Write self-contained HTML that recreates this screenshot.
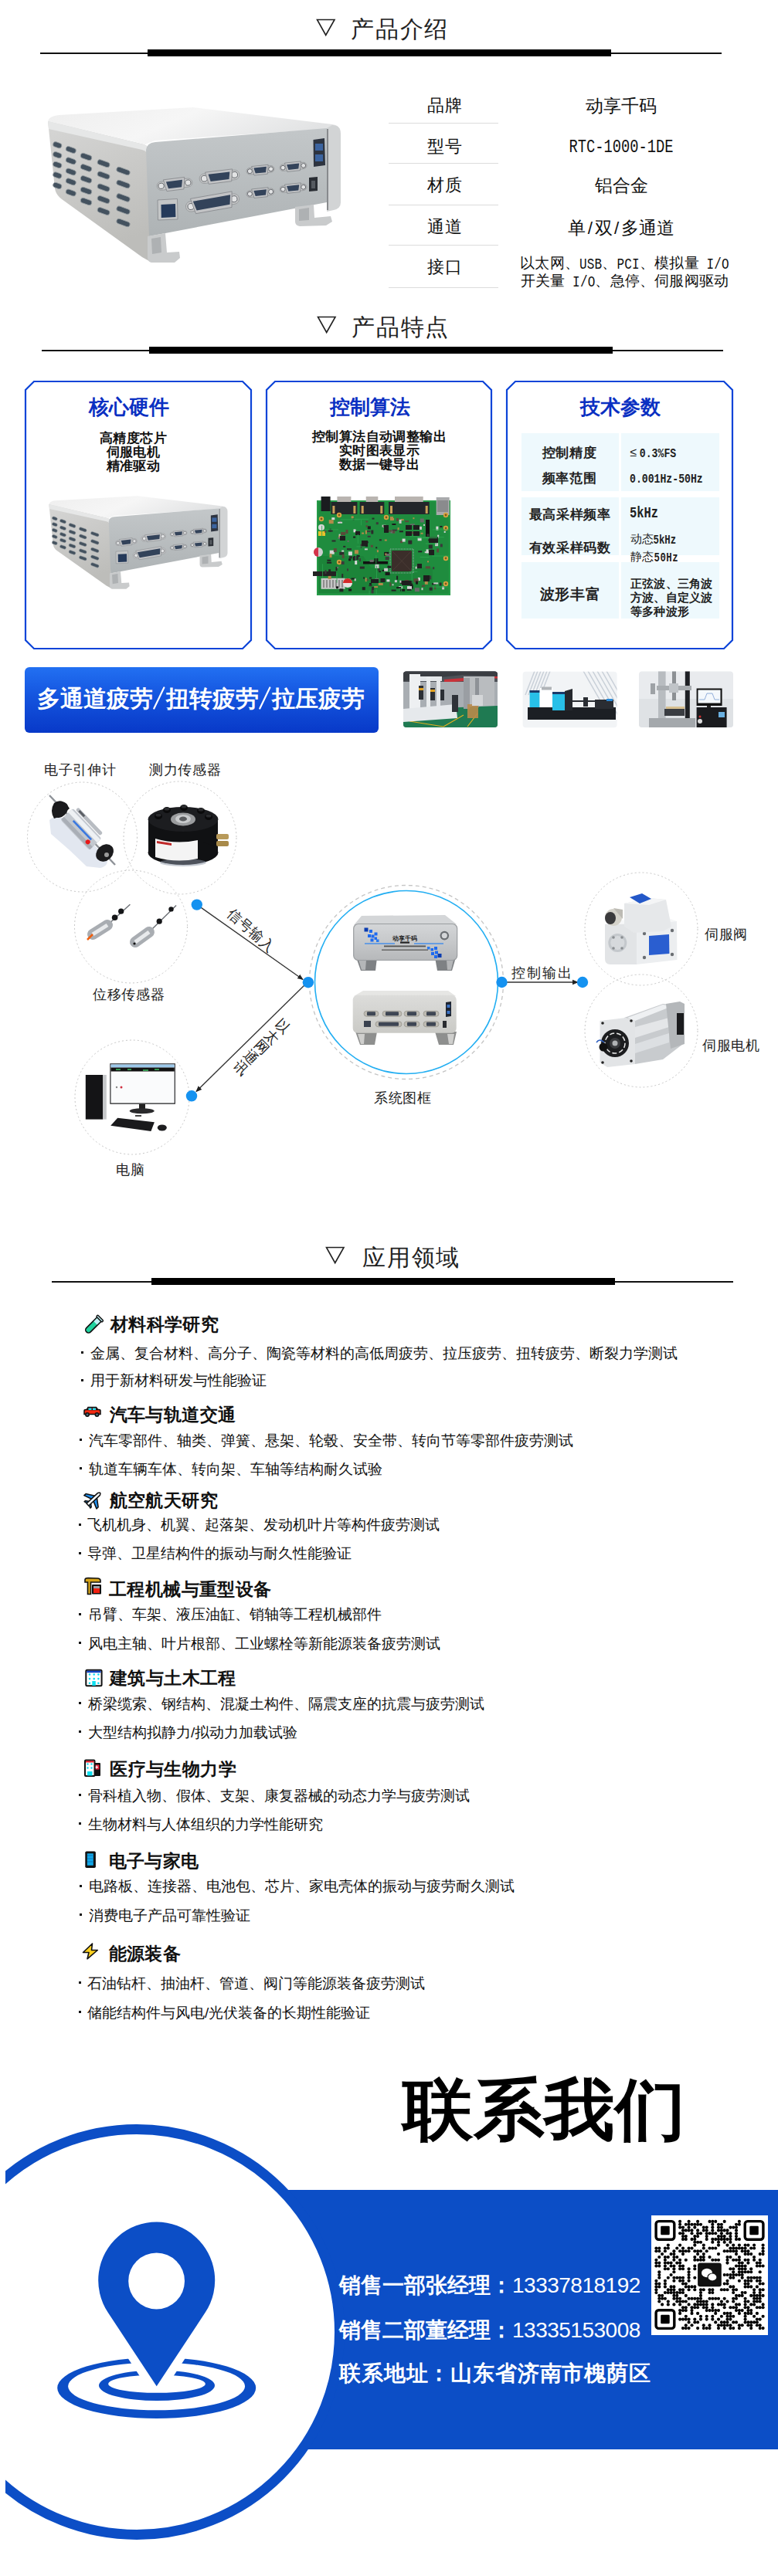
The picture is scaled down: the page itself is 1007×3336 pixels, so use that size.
<!DOCTYPE html>
<html><head><meta charset="utf-8">
<style>
*{margin:0;padding:0;box-sizing:border-box}
html,body{width:1007px;height:3336px;background:#fff;overflow:hidden}
body{position:relative;font-family:"Liberation Sans",sans-serif;color:#111}
.a{position:absolute;white-space:nowrap;line-height:1;z-index:2}
.ln{position:absolute;background:#111}
.tri{position:absolute}
.h1t{font-size:30px;color:#222;letter-spacing:1.8px;font-weight:500}
.lab{font-size:22px;color:#111;font-weight:500;letter-spacing:0.5px}
.val{font-size:22.5px;color:#111;text-align:center;width:300px;font-weight:500}
.hs{display:inline-block;width:11.25px;text-align:center}
.mo{font-family:"Liberation Mono",monospace;font-size:0.833em;display:inline-block;transform:scaleY(1.3);font-weight:normal}
.sep{position:absolute;height:1px;background:#dcdcdc}
.card{position:absolute;top:494px;width:294px;height:348px}
.ct{font-size:26px;font-weight:bold;color:#0a30c2}
.cs{font-size:17px;font-weight:bold;color:#111;text-align:center;line-height:18px;letter-spacing:0.4px}
.tp{font-size:17px;color:#222;font-weight:bold;letter-spacing:0.7px}
.tv .mo{font-weight:bold}
.em1{display:inline-block;width:1em;text-align:center}
.tv{font-size:15.8px;color:#222;font-weight:500}
.dl{font-size:18px;color:#222;font-weight:500;letter-spacing:0.7px}
.ah{font-size:23px;font-weight:bold;color:#111;letter-spacing:0.4px}
.al{font-size:19px;color:#111;font-weight:500}
.sl{display:inline-block;width:17px;text-align:center;font-weight:normal;color:transparent}
.ft{font-size:28px;font-weight:bold;color:#fff}
.dg{font-weight:normal;letter-spacing:-0.5px}
</style></head><body>

<!-- ===== Section 1 header ===== -->
<div class="ln" style="left:52px;top:68px;width:882px;height:1.5px"></div>
<div class="ln" style="left:191px;top:64px;width:600px;height:9px;background:#000"></div>
<svg class="tri" style="left:408px;top:23px" width="28" height="25"><path d="M2.5 2.5 L25 2.5 L13.7 22.5 Z" fill="none" stroke="#222" stroke-width="1.6"/></svg>
<div class="a h1t" style="left:454px;top:22.5px">产品介绍</div>

<!-- ===== Section 2 header ===== -->
<div class="ln" style="left:54px;top:453px;width:882px;height:1.5px"></div>
<div class="ln" style="left:193px;top:449px;width:600px;height:9px;background:#000"></div>
<svg class="tri" style="left:409px;top:408px" width="28" height="25"><path d="M2.5 2.5 L25 2.5 L13.7 22.5 Z" fill="none" stroke="#222" stroke-width="1.6"/></svg>
<div class="a h1t" style="left:455px;top:409px">产品特点</div>

<!-- ===== Section 3 header ===== -->
<div class="ln" style="left:67px;top:1659px;width:882px;height:1.5px"></div>
<div class="ln" style="left:196px;top:1655px;width:600px;height:9px;background:#000"></div>
<svg class="tri" style="left:420px;top:1613px" width="28" height="25"><path d="M2.5 2.5 L25 2.5 L13.7 22.5 Z" fill="none" stroke="#222" stroke-width="1.6"/></svg>
<div class="a h1t" style="left:469px;top:1614px">应用领域</div>


<!-- ===== Image layer ===== -->
<svg id="imgs" style="position:absolute;left:0;top:0;z-index:1" width="1007" height="3336">
<defs>
<linearGradient id="gTop" x1="0" y1="0" x2="1" y2="0.3"><stop offset="0" stop-color="#eeeeee"/><stop offset="0.5" stop-color="#f6f6f6"/><stop offset="1" stop-color="#e2e3e4"/></linearGradient>
<linearGradient id="gSide" x1="0" y1="0" x2="0.3" y2="1"><stop offset="0" stop-color="#d6d6d5"/><stop offset="1" stop-color="#bdbdba"/></linearGradient>
<linearGradient id="gFront" x1="0" y1="0" x2="0" y2="1"><stop offset="0" stop-color="#c3c7c9"/><stop offset="1" stop-color="#aeb3b5"/></linearGradient>
<linearGradient id="gSys" x1="0" y1="0" x2="0" y2="1"><stop offset="0" stop-color="#d4d6d8"/><stop offset="0.5" stop-color="#c6c8ca"/><stop offset="1" stop-color="#b6b8ba"/></linearGradient>
<linearGradient id="gSys2" x1="0" y1="0" x2="0" y2="1"><stop offset="0" stop-color="#dcdcda"/><stop offset="1" stop-color="#cacac6"/></linearGradient>
</defs>
<g id="box">
<path d="M62 157 Q64 150 76 149 L250 139 L430 161 Q440 163 437 166 L423 167 L200 182 L188 187 Z" fill="url(#gTop)"/>
<path d="M62 157 L186 187 Q193 189 193 198 L193 338 L184 333 L80 258 Q72 252 71 244 Z" fill="url(#gSide)"/>
<path d="M62 157 L186 187 Q193 189 193 198 L193 203 Q191 196 184 194 L63 167 Z" fill="#e6e7e7"/>
<g fill="#44525f" stroke="#9aa0a4" stroke-width="0.8"><rect x="68.5" y="184.5" width="11.5" height="6.6" rx="3.2" transform="rotate(20 74.3 187.8)"/>
<rect x="68.5" y="197.4" width="11.5" height="6.6" rx="3.2" transform="rotate(20 74.3 200.7)"/>
<rect x="68.5" y="210.2" width="11.5" height="6.6" rx="3.2" transform="rotate(20 74.3 213.5)"/>
<rect x="68.5" y="223.7" width="11.5" height="6.6" rx="3.2" transform="rotate(20 74.3 227.0)"/>
<rect x="68.5" y="237.2" width="11.5" height="6.6" rx="3.2" transform="rotate(20 74.3 240.5)"/>
<rect x="85.0" y="190.7" width="13.5" height="6.6" rx="3.2" transform="rotate(20 91.8 194.0)"/>
<rect x="85.0" y="205.1" width="13.5" height="6.6" rx="3.2" transform="rotate(20 91.8 208.4)"/>
<rect x="85.0" y="219.2" width="13.5" height="6.6" rx="3.2" transform="rotate(20 91.8 222.5)"/>
<rect x="85.0" y="232.1" width="13.5" height="6.6" rx="3.2" transform="rotate(20 91.8 235.4)"/>
<rect x="85.0" y="246.2" width="13.5" height="6.6" rx="3.2" transform="rotate(20 91.8 249.5)"/>
<rect x="104.0" y="199.7" width="15.0" height="6.6" rx="3.2" transform="rotate(20 111.5 203.0)"/>
<rect x="104.0" y="214.1" width="15.0" height="6.6" rx="3.2" transform="rotate(20 111.5 217.4)"/>
<rect x="104.0" y="229.0" width="15.0" height="6.6" rx="3.2" transform="rotate(20 111.5 232.3)"/>
<rect x="104.0" y="243.7" width="15.0" height="6.6" rx="3.2" transform="rotate(20 111.5 247.0)"/>
<rect x="104.0" y="257.7" width="15.0" height="6.6" rx="3.2" transform="rotate(20 111.5 261.0)"/>
<rect x="125.8" y="208.4" width="16.5" height="6.6" rx="3.2" transform="rotate(20 134.0 211.7)"/>
<rect x="125.8" y="223.7" width="16.5" height="6.6" rx="3.2" transform="rotate(20 134.0 227.0)"/>
<rect x="125.8" y="239.7" width="16.5" height="6.6" rx="3.2" transform="rotate(20 134.0 243.0)"/>
<rect x="125.8" y="255.2" width="16.5" height="6.6" rx="3.2" transform="rotate(20 134.0 258.5)"/>
<rect x="125.8" y="270.2" width="16.5" height="6.6" rx="3.2" transform="rotate(20 134.0 273.5)"/>
<rect x="150.5" y="218.2" width="18.0" height="6.6" rx="3.2" transform="rotate(20 159.5 221.5)"/>
<rect x="150.5" y="235.2" width="18.0" height="6.6" rx="3.2" transform="rotate(20 159.5 238.5)"/>
<rect x="150.5" y="252.7" width="18.0" height="6.6" rx="3.2" transform="rotate(20 159.5 256.0)"/>
<rect x="150.5" y="268.9" width="18.0" height="6.6" rx="3.2" transform="rotate(20 159.5 272.2)"/>
<rect x="150.5" y="285.2" width="18.0" height="6.6" rx="3.2" transform="rotate(20 159.5 288.5)"/></g>
<path d="M189 194 Q190 185 201 184 L423 166 L423 262 L193 306 Z" fill="url(#gFront)"/>
<path d="M423 166 L430 162 Q441 162 441 173 L441 262 Q441 270 432 272 L423 274 Z" fill="#d2d4d5"/>
<path d="M424 167 L424 272" stroke="#7f8285" stroke-width="1.8"/>
<path d="M191 306 L214 302 L216 327 L232 326 L233 334 L226 340 L196 340 Q191 339 191 333 Z" fill="#c9cbcc"/>
<path d="M196 309 L208 307 L209 327 L197 329 Z" fill="#aeb1b3"/>
<path d="M382 268 L406 265 L407 282 L428 280 L430 287 L422 292 L388 293 Q382 292 382 287 Z" fill="#c9cbcc"/>
<path d="M387 271 L400 269 L400 285 L387 286 Z" fill="#aeb1b3"/>
<g transform="translate(226.0 238.7) rotate(-7)"><rect x="-23.0" y="-5.5" width="46.0" height="11.0" rx="5.5" fill="#c6c7c8" stroke="#8c8f92" stroke-width="0.7"/><circle cx="-17.5" cy="0" r="3.6" fill="#e2e3e4" stroke="#5d6166" stroke-width="0.9"/><circle cx="17.5" cy="0" r="3.6" fill="#e2e3e4" stroke="#5d6166" stroke-width="0.9"/><path d="M-13.8 -7.6 H13.8 L11.1 7.6 H-11.1 Z" fill="#c2c3c5" stroke="#85888c" stroke-width="0.8"/><path d="M-10.6 -4.6 H10.6 L8.6 4.6 H-8.6 Z" fill="#33435a"/></g>
<g transform="translate(284.0 228.8) rotate(-7)"><rect x="-26.0" y="-6.2" width="52.0" height="12.5" rx="6.2" fill="#c6c7c8" stroke="#8c8f92" stroke-width="0.7"/><circle cx="-19.8" cy="0" r="3.9" fill="#e2e3e4" stroke="#5d6166" stroke-width="0.9"/><circle cx="19.8" cy="0" r="3.9" fill="#e2e3e4" stroke="#5d6166" stroke-width="0.9"/><path d="M-17.7 -7.8 H17.7 L14.9 7.8 H-14.9 Z" fill="#c2c3c5" stroke="#85888c" stroke-width="0.8"/><path d="M-14.0 -4.7 H14.0 L12.0 4.7 H-12.0 Z" fill="#33435a"/></g>
<g transform="translate(337.0 220.3) rotate(-6)"><rect x="-18.0" y="-4.3" width="36.0" height="8.6" rx="4.3" fill="#c6c7c8" stroke="#8c8f92" stroke-width="0.7"/><circle cx="-13.7" cy="0" r="3.0" fill="#e2e3e4" stroke="#5d6166" stroke-width="0.9"/><circle cx="13.7" cy="0" r="3.0" fill="#e2e3e4" stroke="#5d6166" stroke-width="0.9"/><path d="M-10.8 -5.9 H10.8 L8.7 5.9 H-8.7 Z" fill="#c2c3c5" stroke="#85888c" stroke-width="0.8"/><path d="M-8.3 -3.6 H8.3 L6.7 3.6 H-6.7 Z" fill="#33435a"/></g>
<g transform="translate(379.5 215.8) rotate(-6)"><rect x="-17.5" y="-4.2" width="35.0" height="8.4" rx="4.2" fill="#c6c7c8" stroke="#8c8f92" stroke-width="0.7"/><circle cx="-13.3" cy="0" r="2.9" fill="#e2e3e4" stroke="#5d6166" stroke-width="0.9"/><circle cx="13.3" cy="0" r="2.9" fill="#e2e3e4" stroke="#5d6166" stroke-width="0.9"/><path d="M-10.5 -5.8 H10.5 L8.4 5.8 H-8.4 Z" fill="#c2c3c5" stroke="#85888c" stroke-width="0.8"/><path d="M-8.1 -3.5 H8.1 L6.5 3.5 H-6.5 Z" fill="#33435a"/></g>
<g transform="translate(275.0 262.6) rotate(-10)"><rect x="-35.0" y="-6.7" width="70.0" height="13.3" rx="6.7" fill="#c6c7c8" stroke="#8c8f92" stroke-width="0.7"/><circle cx="-28.4" cy="0" r="4.0" fill="#e2e3e4" stroke="#5d6166" stroke-width="0.9"/><circle cx="28.4" cy="0" r="4.0" fill="#e2e3e4" stroke="#5d6166" stroke-width="0.9"/><path d="M-27.3 -10.1 H27.3 L23.6 10.1 H-23.6 Z" fill="#c2c3c5" stroke="#85888c" stroke-width="0.8"/><path d="M-24.5 -6.1 H24.5 L21.8 6.1 H-21.8 Z" fill="#33435a"/></g>
<g transform="translate(337.0 249.7) rotate(-6)"><rect x="-18.0" y="-4.3" width="36.0" height="8.6" rx="4.3" fill="#c6c7c8" stroke="#8c8f92" stroke-width="0.7"/><circle cx="-13.7" cy="0" r="3.0" fill="#e2e3e4" stroke="#5d6166" stroke-width="0.9"/><circle cx="13.7" cy="0" r="3.0" fill="#e2e3e4" stroke="#5d6166" stroke-width="0.9"/><path d="M-10.8 -5.9 H10.8 L8.7 5.9 H-8.7 Z" fill="#c2c3c5" stroke="#85888c" stroke-width="0.8"/><path d="M-8.3 -3.6 H8.3 L6.7 3.6 H-6.7 Z" fill="#33435a"/></g>
<g transform="translate(379.5 243.7) rotate(-6)"><rect x="-17.5" y="-4.2" width="35.0" height="8.4" rx="4.2" fill="#c6c7c8" stroke="#8c8f92" stroke-width="0.7"/><circle cx="-13.3" cy="0" r="2.9" fill="#e2e3e4" stroke="#5d6166" stroke-width="0.9"/><circle cx="13.3" cy="0" r="2.9" fill="#e2e3e4" stroke="#5d6166" stroke-width="0.9"/><path d="M-10.5 -5.8 H10.5 L8.4 5.8 H-8.4 Z" fill="#c2c3c5" stroke="#85888c" stroke-width="0.8"/><path d="M-8.1 -3.5 H8.1 L6.5 3.5 H-6.5 Z" fill="#33435a"/></g>
<path d="M204 259 L229.5 257.5 L230 284 L204.5 285 Z" fill="#c4c6c7" stroke="#85888b" stroke-width="0.8"/>
<path d="M208.5 265 L227 264 L227.4 281 L208.8 282 Z" fill="#253a5a"/>
<path d="M400 230 L411 229 L411 247 L400 248 Z" fill="#2a2e34"/>
<rect x="403" y="234" width="5" height="10" fill="#555a60"/>
<path d="M405.5 181 L420 179 L421 214 L406 216 Z" fill="#2e3440"/>
<rect x="408" y="186" width="10" height="9" fill="#3c64a0"/>
<rect x="408" y="200" width="10" height="9" fill="#3c64a0"/>
</g>
<use href="#box" transform="translate(25.5 558.8) scale(0.61 0.6)"/>
<g id="pcb">
<rect x="410" y="648" width="173" height="123" fill="#1f8c3e"/>
<rect x="411" y="649" width="171" height="121" fill="none" stroke="#2aa04c" stroke-width="1.5"/>
<path d="M412 720 L470 720 L480 735 L560 735 L560 768 L412 768 Z" fill="#1b8038" opacity="0.7"/>
<rect x="436.4" y="643" width="18.0" height="8" fill="#b9b4b0"/>
<rect x="428.4" y="650" width="34.0" height="16" fill="#23262a"/>
<rect x="430.4" y="655" width="3" height="10" fill="#c9a05a"/>
<rect x="457.4" y="655" width="3" height="10" fill="#c9a05a"/>
<rect x="473.7" y="643" width="15.6" height="8" fill="#b9b4b0"/>
<rect x="465.7" y="650" width="31.6" height="16" fill="#23262a"/>
<rect x="467.7" y="655" width="3" height="10" fill="#c9a05a"/>
<rect x="492.3" y="655" width="3" height="10" fill="#c9a05a"/>
<rect x="511.0" y="643" width="36.7" height="8" fill="#b9b4b0"/>
<rect x="503.0" y="650" width="52.7" height="16" fill="#23262a"/>
<rect x="505.0" y="655" width="3" height="10" fill="#c9a05a"/>
<rect x="550.7" y="655" width="3" height="10" fill="#c9a05a"/>
<rect x="415.6" y="643" width="12" height="19" fill="#1a1c1f"/>
<rect x="564.7" y="644" width="17" height="23" fill="#a9aaac"/>
<rect x="566" y="648" width="14" height="15" fill="#8a8b8d"/>
<rect x="507" y="713" width="26" height="27" fill="#3b2e2a"/>
<rect x="505" y="711" width="30" height="31" fill="none" stroke="#9aa" stroke-width="1.2" stroke-dasharray="1 1"/>
<path d="M507 713 L533 740 M533 713 L507 740" stroke="#4a3c36" stroke-width="1"/>
<rect x="415.6" y="748.8" width="31" height="14" fill="#c7c7c7"/>
<rect x="418.0" y="751" width="2" height="10" fill="#8d8d8d"/>
<rect x="422.0" y="751" width="2" height="10" fill="#8d8d8d"/>
<rect x="426.0" y="751" width="2" height="10" fill="#8d8d8d"/>
<rect x="430.0" y="751" width="2" height="10" fill="#8d8d8d"/>
<rect x="434.0" y="751" width="2" height="10" fill="#8d8d8d"/>
<rect x="438.0" y="751" width="2" height="10" fill="#8d8d8d"/>
<rect x="442.0" y="751" width="2" height="10" fill="#8d8d8d"/>
<rect x="405" y="740" width="30" height="6" fill="#222"/>
<circle cx="450" cy="755" r="6" fill="#e9e3e3"/><path d="M444 755 A6 6 0 0 1 456 755 Z" fill="#d42a2a"/>
<circle cx="412" cy="715" r="6" fill="#cfcfcf"/><path d="M406 715 A6 6 0 0 1 412 709 L412 721 A6 6 0 0 1 406 715Z" fill="#d6334a"/>
<rect x="412" y="688" width="9" height="6" fill="#e8c22b"/>
<circle cx="416" cy="683" r="4" fill="#d8d8d8"/>
<circle cx="416" cy="672" r="3.2" fill="#d9a441"/><circle cx="416" cy="672" r="1.4" fill="#7a5a20"/>
<circle cx="439" cy="728" r="3.2" fill="#d9a441"/><circle cx="439" cy="728" r="1.4" fill="#7a5a20"/>
<circle cx="577" cy="667" r="3.2" fill="#d9a441"/><circle cx="577" cy="667" r="1.4" fill="#7a5a20"/>
<circle cx="577" cy="684" r="3.2" fill="#d9a441"/><circle cx="577" cy="684" r="1.4" fill="#7a5a20"/>
<circle cx="577" cy="723" r="3.2" fill="#d9a441"/><circle cx="577" cy="723" r="1.4" fill="#7a5a20"/>
<circle cx="577" cy="756" r="3.2" fill="#d9a441"/><circle cx="577" cy="756" r="1.4" fill="#7a5a20"/>
<circle cx="439" cy="667" r="3.2" fill="#d9a441"/><circle cx="439" cy="667" r="1.4" fill="#7a5a20"/>
<circle cx="500" cy="670" r="3.2" fill="#d9a441"/><circle cx="500" cy="670" r="1.4" fill="#7a5a20"/>
<rect x="470" y="727" width="32" height="3.5" fill="#111"/>
<rect x="551" y="673" width="5" height="22" fill="#111"/>
<rect x="456.9" y="720.8" width="3" height="5" fill="#1a1a1a"/>
<rect x="517.0" y="674.4" width="2" height="4" fill="#5a4a3a"/>
<rect x="505.4" y="686.6" width="6" height="4" fill="#6a6a6a"/>
<rect x="549.7" y="714.2" width="6" height="2" fill="#c8c8c8"/>
<rect x="518.4" y="752.2" width="5" height="4" fill="#222"/>
<rect x="524.1" y="674.2" width="5" height="2" fill="#5a4a3a"/>
<rect x="540.9" y="747.9" width="3" height="4" fill="#d8d8d8"/>
<rect x="530.7" y="757.3" width="4" height="5" fill="#1a1a1a"/>
<rect x="569.4" y="681.0" width="3" height="2" fill="#222"/>
<rect x="441.1" y="689.0" width="6" height="4" fill="#5a4a3a"/>
<rect x="485.3" y="748.8" width="5" height="3" fill="#6a6a6a"/>
<rect x="560.2" y="734.2" width="2" height="3" fill="#3a3a3a"/>
<rect x="528.3" y="699.7" width="5" height="5" fill="#2b2b2b"/>
<rect x="530.6" y="688.5" width="5" height="3" fill="#5a4a3a"/>
<rect x="439.3" y="714.8" width="6" height="4" fill="#2b2b2b"/>
<rect x="473.3" y="674.5" width="3" height="2" fill="#5a4a3a"/>
<rect x="486.2" y="708.3" width="2" height="2" fill="#222"/>
<rect x="478.6" y="724.9" width="5" height="3" fill="#6a6a6a"/>
<rect x="456.6" y="671.5" width="2" height="2" fill="#2b2b2b"/>
<rect x="513.0" y="671.0" width="3" height="4" fill="#5a4a3a"/>
<rect x="514.6" y="683.2" width="2" height="3" fill="#b38b4a"/>
<rect x="475.8" y="681.4" width="4" height="4" fill="#1a1a1a"/>
<rect x="554.8" y="705.5" width="5" height="5" fill="#2b2b2b"/>
<rect x="516.1" y="759.2" width="5" height="3" fill="#d8d8d8"/>
<rect x="565.1" y="710.4" width="3" height="5" fill="#5a4a3a"/>
<rect x="505.0" y="669.1" width="4" height="5" fill="#b38b4a"/>
<rect x="423.1" y="727.7" width="6" height="2" fill="#222"/>
<rect x="518.2" y="700.2" width="3" height="3" fill="#5a4a3a"/>
<rect x="534.4" y="670.2" width="2" height="2" fill="#b38b4a"/>
<rect x="458.9" y="712.3" width="5" height="5" fill="#b38b4a"/>
<rect x="447.5" y="686.0" width="3" height="5" fill="#5a4a3a"/>
<rect x="466.6" y="704.6" width="2" height="5" fill="#3a3a3a"/>
<rect x="468.1" y="689.6" width="3" height="2" fill="#b38b4a"/>
<rect x="449.0" y="710.2" width="6" height="2" fill="#2b2b2b"/>
<rect x="513.1" y="760.1" width="6" height="2" fill="#1a1a1a"/>
<rect x="545.5" y="761.2" width="2" height="3" fill="#c8c8c8"/>
<rect x="557.2" y="711.8" width="3" height="2" fill="#222"/>
<rect x="502.1" y="686.5" width="5" height="2" fill="#5a4a3a"/>
<rect x="472.7" y="748.3" width="2" height="5" fill="#b38b4a"/>
<rect x="500.4" y="750.4" width="4" height="3" fill="#d8d8d8"/>
<rect x="465.0" y="723.1" width="2" height="4" fill="#3a3a3a"/>
<rect x="450.9" y="714.3" width="5" height="5" fill="#d8d8d8"/>
<rect x="506.6" y="763.6" width="6" height="2" fill="#222"/>
<rect x="535.6" y="749.2" width="6" height="5" fill="#5a4a3a"/>
<rect x="504.3" y="754.3" width="2" height="5" fill="#5a4a3a"/>
<rect x="438.6" y="691.7" width="2" height="5" fill="#c8c8c8"/>
<rect x="559.0" y="755.3" width="5" height="2" fill="#222"/>
<rect x="494.6" y="679.7" width="5" height="3" fill="#c8c8c8"/>
<rect x="484.1" y="759.1" width="5" height="2" fill="#b38b4a"/>
<rect x="439.4" y="762.3" width="5" height="4" fill="#222"/>
<rect x="474.5" y="687.1" width="5" height="2" fill="#3a3a3a"/>
<rect x="457.1" y="694.6" width="3" height="2" fill="#1a1a1a"/>
<rect x="517.4" y="751.7" width="2" height="3" fill="#c8c8c8"/>
<rect x="461.6" y="719.1" width="4" height="2" fill="#1a1a1a"/>
<rect x="470.1" y="747.5" width="2" height="2" fill="#222"/>
<rect x="439.3" y="674.6" width="2" height="2" fill="#6a6a6a"/>
<rect x="497.8" y="698.6" width="3" height="2" fill="#b38b4a"/>
<rect x="479.8" y="705.8" width="3" height="3" fill="#5a4a3a"/>
<rect x="449.6" y="699.9" width="2" height="2" fill="#6a6a6a"/>
<rect x="420.5" y="738.1" width="2" height="5" fill="#3a3a3a"/>
<rect x="426.7" y="712.7" width="6" height="5" fill="#d8d8d8"/>
<rect x="518.7" y="672.2" width="4" height="2" fill="#b38b4a"/>
<rect x="468.8" y="760.2" width="4" height="4" fill="#222"/>
<rect x="458.0" y="720.0" width="6" height="5" fill="#2b2b2b"/>
<rect x="544.5" y="689.8" width="3" height="2" fill="#b38b4a"/>
<rect x="478.0" y="755.1" width="3" height="2" fill="#1a1a1a"/>
<rect x="527.0" y="759.1" width="6" height="5" fill="#d8d8d8"/>
<rect x="507.4" y="678.0" width="5" height="2" fill="#1a1a1a"/>
<rect x="442.2" y="743.1" width="2" height="5" fill="#2b2b2b"/>
<rect x="478.2" y="747.5" width="3" height="2" fill="#222"/>
<rect x="550.8" y="733.3" width="6" height="3" fill="#5a4a3a"/>
<rect x="543.8" y="671.5" width="5" height="5" fill="#6a6a6a"/>
<rect x="530.8" y="678.4" width="6" height="2" fill="#6a6a6a"/>
<rect x="429.5" y="699.5" width="5" height="2" fill="#2b2b2b"/>
<rect x="457.5" y="685.4" width="3" height="4" fill="#d8d8d8"/>
<rect x="459.2" y="726.1" width="3" height="5" fill="#d8d8d8"/>
<rect x="569.8" y="704.4" width="3" height="4" fill="#3a3a3a"/>
<rect x="484.4" y="723.1" width="5" height="5" fill="#1a1a1a"/>
<rect x="444.2" y="706.9" width="3" height="2" fill="#2b2b2b"/>
<rect x="497.2" y="714.9" width="6" height="5" fill="#1a1a1a"/>
<rect x="510.9" y="751.2" width="3" height="3" fill="#c8c8c8"/>
<rect x="442.7" y="718.0" width="3" height="5" fill="#5a4a3a"/>
<rect x="524.1" y="751.0" width="5" height="5" fill="#5a4a3a"/>
<rect x="557.9" y="697.8" width="3" height="4" fill="#d8d8d8"/>
<rect x="451.1" y="723.3" width="3" height="3" fill="#1a1a1a"/>
<rect x="540.0" y="681.9" width="6" height="4" fill="#c8c8c8"/>
<rect x="492.5" y="749.0" width="6" height="5" fill="#222"/>
<rect x="494.6" y="737.9" width="4" height="2" fill="#1a1a1a"/>
<rect x="561.2" y="754.4" width="6" height="2" fill="#c8c8c8"/>
<rect x="552.4" y="691.5" width="3" height="3" fill="#3a3a3a"/>
<rect x="449.0" y="736.4" width="2" height="3" fill="#3a3a3a"/>
<rect x="554.1" y="698.4" width="4" height="2" fill="#2b2b2b"/>
<rect x="438.3" y="693.6" width="3" height="2" fill="#b38b4a"/>
<rect x="490.1" y="739.2" width="3" height="2" fill="#222"/>
<rect x="471.9" y="710.3" width="4" height="2" fill="#c8c8c8"/>
<rect x="495.9" y="680.2" width="3" height="2" fill="#5a4a3a"/>
<rect x="431.8" y="710.0" width="4" height="5" fill="#5a4a3a"/>
<rect x="435.0" y="759.3" width="3" height="3" fill="#1a1a1a"/>
<rect x="465.8" y="733.6" width="6" height="3" fill="#2b2b2b"/>
<rect x="536.9" y="761.2" width="6" height="5" fill="#6a6a6a"/>
<rect x="501.5" y="732.7" width="5" height="3" fill="#222"/>
<rect x="507.8" y="685.7" width="6" height="2" fill="#3a3a3a"/>
<rect x="477.5" y="757.2" width="4" height="2" fill="#2b2b2b"/>
<rect x="564.4" y="681.7" width="3" height="5" fill="#d8d8d8"/>
<rect x="490.9" y="698.3" width="3" height="2" fill="#2b2b2b"/>
<rect x="475.7" y="693.8" width="4" height="2" fill="#3a3a3a"/>
<rect x="426.5" y="717.0" width="3" height="5" fill="#b38b4a"/>
<rect x="555.7" y="759.7" width="4" height="5" fill="#2b2b2b"/>
<rect x="474.7" y="750.1" width="2" height="2" fill="#5a4a3a"/>
<rect x="507.5" y="756.3" width="2" height="2" fill="#c8c8c8"/>
<rect x="480.6" y="763.4" width="3" height="5" fill="#3a3a3a"/>
<rect x="553.2" y="745.4" width="5" height="5" fill="#3a3a3a"/>
<rect x="508.1" y="687.6" width="3" height="3" fill="#5a4a3a"/>
<rect x="424.7" y="745.9" width="4" height="4" fill="#b38b4a"/>
<rect x="518.2" y="762.8" width="6" height="3" fill="#1a1a1a"/>
<rect x="424.7" y="686.5" width="6" height="2" fill="#2b2b2b"/>
<rect x="539.4" y="732.2" width="4" height="2" fill="#6a6a6a"/>
<rect x="516.9" y="687.3" width="5" height="2" fill="#222"/>
<rect x="546.0" y="757.8" width="4" height="2" fill="#5a4a3a"/>
<rect x="568.6" y="754.5" width="3" height="4" fill="#2b2b2b"/>
<rect x="516.6" y="672.9" width="3" height="5" fill="#c8c8c8"/>
<rect x="498.4" y="716.4" width="2" height="3" fill="#b38b4a"/>
<rect x="470.9" y="701.3" width="6" height="2" fill="#2b2b2b"/>
<rect x="553.0" y="726.3" width="2" height="2" fill="#b38b4a"/>
<rect x="574.7" y="687.9" width="2" height="2" fill="#d8d8d8"/>
<rect x="528.4" y="689.4" width="3" height="2" fill="#222"/>
<rect x="483.3" y="750.0" width="6" height="2" fill="#d8d8d8"/>
<rect x="497.1" y="735.8" width="5" height="4" fill="#c8c8c8"/>
<rect x="520.6" y="697.6" width="4" height="4" fill="#d8d8d8"/>
<rect x="487.9" y="712.2" width="2" height="3" fill="#b38b4a"/>
<rect x="551.6" y="711.4" width="3" height="5" fill="#d8d8d8"/>
<rect x="454.7" y="668.3" width="3" height="3" fill="#b38b4a"/>
<rect x="442.2" y="712.6" width="3" height="2" fill="#c8c8c8"/>
<rect x="423.4" y="724.7" width="5" height="2" fill="#222"/>
<rect x="441.6" y="727.0" width="4" height="4" fill="#3a3a3a"/>
<rect x="429.3" y="670.2" width="4" height="3" fill="#d8d8d8"/>
<rect x="425.1" y="737.3" width="3" height="4" fill="#222"/>
<rect x="481.5" y="670.6" width="3" height="2" fill="#2b2b2b"/>
<rect x="480.3" y="686.5" width="3" height="5" fill="#2b2b2b"/>
<rect x="473.7" y="680.0" width="2" height="3" fill="#5a4a3a"/>
<rect x="572.1" y="759.4" width="3" height="4" fill="#c8c8c8"/>
<rect x="507.0" y="670.9" width="3" height="3" fill="#b38b4a"/>
<rect x="434.5" y="734.2" width="2" height="5" fill="#222"/>
<rect x="436.2" y="734.0" width="2" height="2" fill="#6a6a6a"/>
<rect x="425.7" y="673.2" width="6" height="5" fill="#b38b4a"/>
<rect x="451.1" y="762.5" width="4" height="3" fill="#1a1a1a"/>
<rect x="562.2" y="759.2" width="2" height="4" fill="#5a4a3a"/>
<rect x="481.1" y="759.9" width="3" height="4" fill="#2b2b2b"/>
<rect x="498.7" y="721.1" width="5" height="4" fill="#3a3a3a"/>
<rect x="549.8" y="751.9" width="4" height="5" fill="#b38b4a"/>
<rect x="563.1" y="703.2" width="4" height="4" fill="#c8c8c8"/>
<rect x="488.9" y="736.2" width="3" height="3" fill="#3a3a3a"/>
<rect x="498.6" y="741.0" width="6" height="4" fill="#1a1a1a"/>
<rect x="426.6" y="684.7" width="2" height="4" fill="#2b2b2b"/>
<rect x="537.6" y="733.7" width="2" height="3" fill="#c8c8c8"/>
<rect x="513.1" y="745.7" width="2" height="5" fill="#222"/>
<rect x="489.7" y="755.0" width="6" height="3" fill="#b38b4a"/>
<rect x="420.3" y="686.9" width="2" height="3" fill="#5a4a3a"/>
<rect x="437.1" y="675.8" width="6" height="2" fill="#c8c8c8"/>
<rect x="526.7" y="762.8" width="6" height="2" fill="#222"/>
<rect x="437.4" y="695.9" width="3" height="2" fill="#6a6a6a"/>
<rect x="499.9" y="717.0" width="5" height="3" fill="#6a6a6a"/>
<rect x="541.2" y="713.3" width="5" height="2" fill="#222"/>
<rect x="548.0" y="678.9" width="2" height="2" fill="#c8c8c8"/>
<rect x="566.2" y="692.7" width="2" height="4" fill="#d8d8d8"/>
<rect x="454.5" y="748.5" width="5" height="2" fill="#1a1a1a"/>
<rect x="538.0" y="752.6" width="3" height="4" fill="#1a1a1a"/>
<rect x="540.6" y="696.3" width="5" height="4" fill="#d8d8d8"/>
<rect x="451.9" y="720.3" width="4" height="3" fill="#2b2b2b"/>
<rect x="472.9" y="686.6" width="2" height="5" fill="#b38b4a"/>
<rect x="485.5" y="730.9" width="5" height="5" fill="#c8c8c8"/>
<rect x="458.7" y="749.3" width="2" height="3" fill="#c8c8c8"/>
<rect x="486.8" y="676.2" width="3" height="3" fill="#3a3a3a"/>
<rect x="536.2" y="688.1" width="3" height="5" fill="#1a1a1a"/>
<rect x="525" y="680" width="8" height="6" fill="#1e1e1e"/>
<rect x="535" y="680" width="8" height="6" fill="#1e1e1e"/>
<rect x="525" y="688" width="8" height="6" fill="#1e1e1e"/>
<rect x="535" y="688" width="8" height="6" fill="#1e1e1e"/>
<rect x="468" y="700" width="8" height="8" fill="#1e1e1e"/>
<rect x="497" y="680" width="6" height="10" fill="#1e1e1e"/>
<rect x="460" y="688" width="6" height="5" fill="#1e1e1e"/>
<rect x="440" y="694" width="7" height="6" fill="#1e1e1e"/>
<rect x="555" y="695" width="12" height="8" fill="#1e1e1e"/>
<rect x="555" y="712" width="7" height="7" fill="#1e1e1e"/>
<rect x="540" y="730" width="6" height="6" fill="#1e1e1e"/>
<rect x="548" y="745" width="8" height="8" fill="#1e1e1e"/>
<rect x="520" y="752" width="14" height="6" fill="#1e1e1e"/>
<rect x="480" y="750" width="10" height="5" fill="#1e1e1e"/>
<clipPath id="pcbclip"><rect x="411" y="649" width="171" height="121"/></clipPath><g clip-path="url(#pcbclip)">
<path d="M559.4 720.0 h28.9" stroke="#2fa552" stroke-width="0.8"/>
<path d="M555.0 760.1 h25.0" stroke="#2fa552" stroke-width="0.8"/>
<path d="M478.1 764.7 v10.1" stroke="#2fa552" stroke-width="0.8"/>
<path d="M559.8 685.9 h23.9" stroke="#2fa552" stroke-width="0.8"/>
<path d="M460.6 718.4 v6.6" stroke="#2fa552" stroke-width="0.8"/>
<path d="M530.5 694.8 h15.6" stroke="#2fa552" stroke-width="0.8"/>
<path d="M530.0 740.4 h10.3" stroke="#2fa552" stroke-width="0.8"/>
<path d="M461.4 707.9 h11.4" stroke="#2fa552" stroke-width="0.8"/>
<path d="M533.2 735.9 v19.7" stroke="#2fa552" stroke-width="0.8"/>
<path d="M550.8 704.1 h14.9" stroke="#2fa552" stroke-width="0.8"/>
<path d="M486.8 719.0 v11.0" stroke="#2fa552" stroke-width="0.8"/>
<path d="M547.2 695.7 h27.5" stroke="#2fa552" stroke-width="0.8"/>
<path d="M540.1 696.8 h25.7" stroke="#2fa552" stroke-width="0.8"/>
<path d="M416.6 680.8 v13.5" stroke="#2fa552" stroke-width="0.8"/>
<path d="M440.7 672.9 h24.9" stroke="#2fa552" stroke-width="0.8"/>
<path d="M487.2 763.0 v19.7" stroke="#2fa552" stroke-width="0.8"/>
<path d="M420.4 685.9 h17.5" stroke="#2fa552" stroke-width="0.8"/>
<path d="M467.4 673.0 v7.3" stroke="#2fa552" stroke-width="0.8"/>
<path d="M463.3 692.0 v11.9" stroke="#2fa552" stroke-width="0.8"/>
<path d="M455.4 672.3 h21.8" stroke="#2fa552" stroke-width="0.8"/>
<path d="M519.7 756.5 v9.5" stroke="#2fa552" stroke-width="0.8"/>
<path d="M436.0 741.6 v13.1" stroke="#2fa552" stroke-width="0.8"/>
<path d="M543.8 721.5 h11.7" stroke="#2fa552" stroke-width="0.8"/>
<path d="M417.6 730.4 v18.7" stroke="#2fa552" stroke-width="0.8"/>
<path d="M487.5 732.6 v17.4" stroke="#2fa552" stroke-width="0.8"/>
</g>
</g>
<path d="M212.3 890.5 L199.3 917.5 M349.3 890.5 L336.3 917.5" stroke="#fff" stroke-width="2.2" stroke-linecap="round"/>
<clipPath id="cp1"><rect x="522" y="869.5" width="122" height="72.5" rx="4"/></clipPath>
<clipPath id="cp2"><rect x="676.6" y="869.8" width="122" height="72.4" rx="4"/></clipPath>
<clipPath id="cp3"><rect x="827" y="869.5" width="122" height="72.5" rx="4"/></clipPath>
<g clip-path="url(#cp1)">
<rect x="522" y="869" width="122" height="73" fill="#8c9096"/>
<rect x="522" y="869" width="122" height="14" fill="#4e5258"/>
<path d="M522 869 L644 869 L644 876 L600 874 L560 878 L522 882Z" fill="#3a3d42"/>
<path d="M575 880 L626 876 L626 880 L575 884Z" fill="#c8323a"/>
<rect x="620" y="876" width="24" height="2.5" fill="#c8323a"/>
<rect x="522" y="883" width="122" height="37" fill="#a9aeb3"/>
<rect x="600" y="876" width="40" height="44" fill="#b9bcbf"/>
<path d="M522 919 L644 914 L644 942 L522 942Z" fill="#1f7a52"/>
<path d="M530 934 L574 941 M574 941 L600 926 M605 941 L618 924" stroke="#e0b020" stroke-width="1.2"/>
<rect x="530" y="873" width="14" height="52" fill="#eef0f2"/>
<rect x="544" y="876" width="28" height="6" fill="#e4e7ea"/>
<rect x="552" y="876" width="5" height="42" fill="#e9ecee"/>
<rect x="565" y="878" width="5" height="40" fill="#e4e7ea"/>
<rect x="542" y="888" width="6" height="18" fill="#2b2f35"/><rect x="542" y="891" width="6" height="3" fill="#e0a020"/>
<rect x="557" y="891" width="6" height="16" fill="#2b2f35"/><rect x="557" y="893" width="6" height="3" fill="#e0a020"/>
<rect x="570" y="893" width="5" height="14" fill="#2b2f35"/>
<path d="M522 918 L590 912 L592 930 L522 935Z" fill="#e6e9ec"/>
<rect x="585" y="900" width="8" height="22" fill="#2e3238"/>
<rect x="600" y="878" width="8" height="40" fill="#9a9ea3"/>
<rect x="615" y="878" width="5" height="38" fill="#8e9297"/>
<rect x="605" y="912" width="14" height="18" fill="#b98a4a" opacity="0.9"/>
<rect x="611" y="900" width="14" height="14" fill="#d4d6d8"/>
</g>
<g clip-path="url(#cp2)">
<rect x="676" y="869" width="123" height="74" fill="#f2f4f6"/>
<g stroke="#c9d0d8" stroke-width="1.5" fill="none">
<path d="M680 900 L692 869"/>
<path d="M755 869 L790 930"/>
<path d="M684 900 L696 869"/>
<path d="M761 869 L796 930"/>
<path d="M688 900 L700 869"/>
<path d="M767 869 L802 930"/>
<path d="M692 900 L704 869"/>
<path d="M773 869 L808 930"/>
<path d="M696 900 L708 869"/>
<path d="M779 869 L814 930"/>
<path d="M700 900 L712 869"/>
<path d="M785 869 L820 930"/>
</g>
<path d="M683 916 L797 916 L797 932 L683 932Z" fill="#1c1f24"/>
<rect x="685.6" y="894" width="13" height="22" fill="#28c0e8"/>
<rect x="685.6" y="894" width="13" height="3" fill="#1a3a6a"/>
<rect x="698.6" y="891" width="16.5" height="25" fill="#ffffff"/>
<rect x="701" y="889.5" width="13" height="4" fill="#b0b4b8"/>
<rect x="715" y="896" width="16" height="24" fill="#28c0e8"/>
<rect x="715" y="896" width="16" height="3" fill="#1a3a6a"/>
<path d="M731 895 L741 892 L741 920 L731 920Z" fill="#26292e"/>
<rect x="741" y="907" width="30" height="2" fill="#2a2d33"/>
<rect x="755" y="903" width="6" height="12" fill="#2a2d33"/>
<rect x="770" y="906" width="24" height="12" fill="#2a2d33"/>
<rect x="785" y="905" width="8" height="3" fill="#2a8ad8"/>
</g>
<g clip-path="url(#cp3)">
<rect x="827" y="869" width="123" height="74" fill="#e9ebee"/>
<rect x="827" y="905" width="123" height="37" fill="#dfe2e5"/>
<rect x="852" y="869" width="9.6" height="66" fill="#b8bcc0"/>
<rect x="886.8" y="869" width="6" height="66" fill="#1e2024"/>
<rect x="850" y="888" width="45" height="6" fill="#a8acb0"/>
<rect x="870" y="869" width="5" height="38" fill="#8c9094"/>
<rect x="866" y="885" width="12" height="12" fill="#c0c4c8"/>
<rect x="842" y="885" width="6" height="14" fill="#9ea2a6"/>
<rect x="862" y="915" width="24" height="3" fill="#d8c090"/>
<rect x="860" y="918" width="26" height="9" fill="#3a3d42"/>
<path d="M840 930 L900 930 L900 942 L840 942Z" fill="#a4a8ac"/>
<rect x="901.6" y="891.5" width="33" height="22.5" fill="#111"/>
<rect x="903.5" y="893.5" width="29" height="17" fill="#f4f8fc"/>
<path d="M905 906 L912 906 L915 898 L922 898 L925 906 L931 906" stroke="#7a9cd0" stroke-width="0.8" fill="none"/>
<rect x="915" y="914" width="5" height="3" fill="#222"/>
<rect x="901.6" y="916" width="39" height="26" fill="#1a1b1e"/>
<rect x="930" y="922" width="8" height="7" fill="#6ab0e0"/>
<circle cx="906" cy="934" r="3" fill="#ddd"/><circle cx="906" cy="928" r="1.5" fill="#d03030"/>
</g>
<g>
<path d="M64 1062 Q75 1052 92 1066 L136 1108 Q144 1120 130 1124 L112 1122 Q90 1100 66 1080 Z" fill="#dfe4ee" opacity="0.9"/>
<line x1="64" y1="1030" x2="149" y2="1120" stroke="#8e9298" stroke-width="2.4"/>
<g transform="translate(107 1076) rotate(46.5)">
<rect x="-30" y="-11" width="54" height="22" rx="3" fill="#c3c8cf"/>
<rect x="-30" y="-9" width="54" height="6" fill="#eef1f4"/>
<rect x="-30" y="5" width="54" height="5" fill="#a9aeb6"/>
<rect x="-18" y="-1.5" width="34" height="2.6" fill="#3a78e0"/>
<rect x="-26" y="-17" width="46" height="5" rx="2" fill="#b8bcc2"/>
<rect x="-22" y="-16" width="10" height="3" fill="#5a5e64"/>
<circle cx="15" cy="5" r="3" fill="#e81818"/>
</g>
<path d="M70 1040 Q78 1034 86 1041 L90 1047 L84 1052 L80 1046 Q76 1043 73 1047 L76 1058 L70 1060 Q64 1050 70 1040 Z" fill="#18181a"/>
<ellipse cx="78" cy="1049" rx="8.5" ry="11.5" transform="rotate(46.5 78 1049)" fill="#1b1b1d"/>
<ellipse cx="135.6" cy="1104.5" rx="10" ry="12.5" transform="rotate(46.5 135.6 1104.5)" fill="#1b1b1d"/>
<circle cx="138" cy="1107" r="3" fill="#9a9a9a"/>
</g>
<g>
<path d="M192 1061 L192 1104 Q237 1132 282 1104 L282 1061 Z" fill="#101113"/>
<ellipse cx="237" cy="1061" rx="45.5" ry="16" fill="#1c1d20"/>
<ellipse cx="237" cy="1104" rx="45.5" ry="16" fill="#101113"/>
<ellipse cx="237" cy="1117" rx="30" ry="5" fill="#8c96a6" opacity="0.5"/>
<ellipse cx="216" cy="1049" rx="5" ry="4" fill="#0a0a0b"/><ellipse cx="216" cy="1047.5" rx="3.5" ry="2" fill="#2a2b2e"/>
<ellipse cx="238" cy="1046" rx="5" ry="4" fill="#0a0a0b"/><ellipse cx="238" cy="1044.5" rx="3.5" ry="2" fill="#2a2b2e"/>
<ellipse cx="260" cy="1050" rx="5" ry="4" fill="#0a0a0b"/><ellipse cx="260" cy="1048.5" rx="3.5" ry="2" fill="#2a2b2e"/>
<ellipse cx="205" cy="1057" rx="5" ry="4" fill="#0a0a0b"/><ellipse cx="205" cy="1055.5" rx="3.5" ry="2" fill="#2a2b2e"/>
<ellipse cx="270" cy="1058" rx="5" ry="4" fill="#0a0a0b"/><ellipse cx="270" cy="1056.5" rx="3.5" ry="2" fill="#2a2b2e"/>
<ellipse cx="237" cy="1061" rx="16" ry="8.5" fill="#9a9c9e"/>
<ellipse cx="237" cy="1060.5" rx="10" ry="5.5" fill="#c9cbcd"/>
<ellipse cx="237" cy="1060.5" rx="5" ry="3" fill="#5a5c5f"/>
<path d="M201 1086 Q228 1094 256 1088 L256 1112 Q228 1118 201 1110 Z" fill="#f4f4f4"/>
<path d="M203 1089 L222 1092 L222 1095 L203 1092 Z" fill="#c02828"/>
<rect x="280" y="1080" width="16" height="7" rx="2" fill="#b89a5a"/><rect x="280" y="1089" width="16" height="7" rx="2" fill="#a88a4a"/>
</g>
<line x1="139" y1="1198" x2="168.4" y2="1171.2" stroke="#6a6e74" stroke-width="1.4"/><line x1="120" y1="1210" x2="139" y2="1198" stroke="#a9adb2" stroke-width="14" stroke-linecap="round"/><line x1="120" y1="1210" x2="139" y2="1198" stroke="#e8eaec" stroke-width="5"/><circle cx="148.6" cy="1188.2" r="3.8" fill="#151618"/><circle cx="156.7" cy="1180.2" r="3.6" fill="#151618"/><line x1="120" y1="1210" x2="113" y2="1217" stroke="#f06010" stroke-width="2.5"/>
<line x1="193" y1="1207" x2="228.1" y2="1172.5" stroke="#6a6e74" stroke-width="1.4"/><line x1="175" y1="1220" x2="193" y2="1207" stroke="#a9adb2" stroke-width="14" stroke-linecap="round"/><line x1="175" y1="1220" x2="193" y2="1207" stroke="#e8eaec" stroke-width="5"/><circle cx="206.2" cy="1193.2" r="3.6" fill="#151618"/><circle cx="221.5" cy="1177.4" r="3.2" fill="#151618"/>
<circle cx="174" cy="1222" r="1.6" fill="#111"/>
<rect x="110.8" y="1392" width="22.5" height="57.6" fill="#141416"/>
<rect x="133.3" y="1392" width="4.5" height="57.6" fill="#c6c8ca"/>
<rect x="142.3" y="1377.2" width="84.6" height="52.6" fill="#2a2a2c"/>
<rect x="143.5" y="1378.5" width="82.2" height="50" fill="#fafbfc"/>
<rect x="143.5" y="1378.5" width="82.2" height="4" fill="#9cc8ea"/>
<rect x="143.5" y="1382.5" width="82.2" height="5" fill="#111"/>
<path d="M150 1385 h6 M165 1385 h5 M185 1386 h7 M200 1385 h6" stroke="#3cc060" stroke-width="1.5"/>
<circle cx="157" cy="1408" r="1.5" fill="#d03040"/><circle cx="151" cy="1408" r="1.2" fill="#888"/>
<rect x="180" y="1429.8" width="8" height="7" fill="#222"/>
<ellipse cx="183.7" cy="1438.8" rx="16" ry="3.5" fill="#2a2a2c"/>
<path d="M152.2 1447.8 L199.9 1453.2 L195.4 1464.9 L143.2 1457.7 Z" fill="#1a1a1c"/>
<ellipse cx="209.8" cy="1460.4" rx="6" ry="4" fill="#1e1e20"/>
<rect x="175" y="1444" width="8" height="2" fill="#444"/>
<path d="M468 1186 L576 1185 L591 1197 L458 1198 Z" fill="#d4d6d8"/>
<path d="M461 1240 L488 1240 L486 1257 L467 1257 Z" fill="#7e8184"/><path d="M563 1240 L590 1240 L585 1257 L566 1257 Z" fill="#7e8184"/>
<path d="M464 1243 L474 1243 L473 1256 L468 1256 Z" fill="#b4b6b8"/><path d="M578 1243 L587 1243 L584 1256 L579 1256 Z" fill="#b4b6b8"/>
<rect x="457.7" y="1196.5" width="134" height="47" rx="6" fill="url(#gSys)"/>
<rect x="457.7" y="1196.5" width="134" height="47" rx="6" fill="none" stroke="#9a9da0" stroke-width="1.2"/>
<rect x="471.5" y="1201.5" width="5" height="5" fill="#0a3cb0"/>
<rect x="478" y="1204" width="4" height="4" fill="#1e6af0"/>
<rect x="476" y="1210" width="4" height="4" fill="#1e6af0"/>
<rect x="480.5" y="1210.5" width="4" height="4" fill="#1e6af0"/>
<rect x="484.5" y="1207.5" width="4" height="4" fill="#1e6af0"/>
<rect x="479.5" y="1215.5" width="4" height="4" fill="#1e6af0"/>
<rect x="484.5" y="1213.5" width="3.5" height="3.5" fill="#1e6af0"/>
<rect x="487" y="1216.5" width="3.5" height="3.5" fill="#2a7af0"/>
<rect x="553" y="1226" width="3.5" height="3.5" fill="#2a7af0"/>
<rect x="557.5" y="1228" width="3.5" height="3.5" fill="#1e6af0"/>
<rect x="562" y="1226" width="4" height="4" fill="#1e6af0"/>
<rect x="558" y="1233" width="4" height="4" fill="#1e6af0"/>
<rect x="563" y="1231.5" width="4" height="4" fill="#1e6af0"/>
<rect x="562" y="1237" width="4" height="4" fill="#1e6af0"/>
<rect x="566.5" y="1235" width="5" height="5" fill="#0a3cb0"/>
<text x="524" y="1217.5" font-size="7.5" text-anchor="middle" fill="#222" font-weight="bold" font-family="Liberation Sans,sans-serif">动享千码</text>
<rect x="518" y="1219.5" width="12" height="2.2" fill="#222"/>
<path d="M472 1222 H511 M536 1222 H574" stroke="#4a90e8" stroke-width="1.3"/>
<rect x="497" y="1224.5" width="54" height="1.8" fill="#555"/><rect x="494" y="1229.5" width="60" height="1.5" fill="#666"/>
<circle cx="575.3" cy="1211.6" r="5.8" fill="#6a6e72"/><circle cx="575.3" cy="1211.6" r="3.6" fill="#d4d6d8"/>
<path d="M470 1283 L580 1283 L590 1290 L458 1290 Z" fill="#e6e6e4"/>

<path d="M460 1336 L488 1336 L485 1353 L466 1353 Z" fill="#8e8f8e"/><path d="M563 1336 L591 1336 L587 1353 L568 1353 Z" fill="#8e8f8e"/><path d="M463 1339 L472 1339 L471 1352 L467 1352 Z" fill="#cfcfcd"/><path d="M579 1339 L588 1339 L586 1352 L581 1352 Z" fill="#cfcfcd"/><rect x="456.7" y="1288.7" width="134" height="49" rx="6" fill="url(#gSys2)"/>
<rect x="471" y="1309.3" width="19" height="7" rx="3.5" fill="#bdbab2" stroke="#8a8880" stroke-width="0.6"/><rect x="475" y="1310.3" width="11" height="5" rx="1" fill="#3e4654"/>
<rect x="495" y="1309.3" width="25" height="7" rx="3.5" fill="#bdbab2" stroke="#8a8880" stroke-width="0.6"/><rect x="499" y="1310.3" width="17" height="5" rx="1" fill="#3e4654"/>
<rect x="523" y="1309.3" width="20" height="7" rx="3.5" fill="#bdbab2" stroke="#8a8880" stroke-width="0.6"/><rect x="527" y="1310.3" width="12" height="5" rx="1" fill="#3e4654"/>
<rect x="548" y="1309.3" width="20" height="7" rx="3.5" fill="#bdbab2" stroke="#8a8880" stroke-width="0.6"/><rect x="552" y="1310.3" width="12" height="5" rx="1" fill="#3e4654"/>
<rect x="486" y="1322.8" width="34" height="7" rx="3.5" fill="#bdbab2" stroke="#8a8880" stroke-width="0.6"/><rect x="490" y="1323.8" width="26" height="5" rx="1" fill="#3e4654"/>
<rect x="523" y="1322.8" width="20" height="7" rx="3.5" fill="#bdbab2" stroke="#8a8880" stroke-width="0.6"/><rect x="527" y="1323.8" width="12" height="5" rx="1" fill="#3e4654"/>
<rect x="548" y="1322.8" width="20" height="7" rx="3.5" fill="#bdbab2" stroke="#8a8880" stroke-width="0.6"/><rect x="552" y="1323.8" width="12" height="5" rx="1" fill="#3e4654"/>
<rect x="471" y="1322" width="9" height="8" fill="#3a4250"/>
<rect x="573" y="1322" width="5" height="9" fill="#2a2c30"/>
<path d="M577 1298 L584 1297 L584 1316 L577 1317 Z" fill="#1e2430"/><rect x="578.5" y="1301" width="4" height="4" fill="#3c74c8"/><rect x="578.5" y="1309" width="4" height="4" fill="#3c74c8"/>
<path d="M783 1197 L824 1196 L824 1249 L790 1249 Q783 1249 783 1242 Z" fill="#e2e4e6"/>
<path d="M824 1196 L876 1193 L876.4 1243 L824 1249 Z" fill="#eceef0"/>
<path d="M783 1197 L824 1196 L876 1193 L868 1190 L790 1192 Z" fill="#f6f7f8"/>
<circle cx="799.3" cy="1221" r="12" fill="#c4c8cc"/><circle cx="799.3" cy="1221" r="9" fill="#d6d9dc"/>
<circle cx="794" cy="1214" r="1.8" fill="#8a8e92"/>
<circle cx="805" cy="1214" r="1.8" fill="#8a8e92"/>
<circle cx="794" cy="1228" r="1.8" fill="#8a8e92"/>
<circle cx="805" cy="1228" r="1.8" fill="#8a8e92"/>
<path d="M840 1212 L866 1210 L866.4 1235 L840 1237 Z" fill="#2a5ed0"/>
<circle cx="834" cy="1209" r="2.2" fill="#6a6e72"/>
<circle cx="870" cy="1205" r="2.2" fill="#6a6e72"/>
<circle cx="834" cy="1240" r="2.2" fill="#6a6e72"/>
<circle cx="870" cy="1236" r="2.2" fill="#6a6e72"/>
<path d="M808 1170 L840 1163 L862 1165 L869 1200 L858 1206 L820 1208 L808 1200 Z" fill="#e6e8ea"/>
<path d="M808 1170 L840 1163 L862 1165 L840 1172 Z" fill="#f4f5f6"/>
<path d="M815 1162 L831 1157 L843 1164 L828 1170 Z" fill="#2458c8"/>
<ellipse cx="794" cy="1188" rx="11" ry="11" fill="#d4d2ca"/><ellipse cx="790" cy="1189" rx="7" ry="8" fill="#3a3a3c"/>
<path d="M794 1176 L806 1178 L806 1190 Z" fill="#bdbbb4"/>
<path d="M808 1318 L858 1300 L884 1302 L884 1352 L858 1372 L822 1378 Z" fill="#c8cbce"/>
<path d="M812 1318 L858 1301 L870 1303 L822 1322 Z" fill="#eef0f2"/>
<path d="M822 1330 L866 1318 L866 1330 L822 1344 Z" fill="#e4e6e8"/>
<path d="M822 1352 L866 1338 L866 1350 L822 1364 Z" fill="#dcdfe2"/>
<path d="M862 1300 L880 1297 L886 1300 L886 1352 L868 1358 Z" fill="#b4b7ba"/>
<rect x="876" y="1312" width="9" height="28" fill="#1a1b1d"/>
<path d="M776.5 1322 L810 1318 L822 1322 L822 1378 L786 1382 L776.5 1376 Z" fill="#e2e4e6"/>
<circle cx="796" cy="1351" r="18" fill="#1c1d1f"/>
<circle cx="796" cy="1351" r="13" fill="none" stroke="#e8e8e8" stroke-width="1.5" stroke-dasharray="6 3"/>
<circle cx="796" cy="1351" r="7" fill="#3a3b3e"/><circle cx="796" cy="1351" r="3.5" fill="#b0b2b4"/>
<circle cx="781" cy="1356" r="5.5" fill="#111"/><path d="M772 1350 Q776 1344 782 1350" stroke="#3060c0" stroke-width="1.5" fill="none"/>
<circle cx="780" cy="1325" r="1.8" fill="#222"/>
<circle cx="817" cy="1322" r="1.8" fill="#222"/>
<circle cx="780" cy="1376" r="1.8" fill="#222"/>
<circle cx="817" cy="1374" r="1.8" fill="#222"/>
<g transform="translate(120.3 1716.5) rotate(45) scale(0.9)">
<path d="M-4.2 -13 L4.2 -13 L4.2 9 A4.2 4.2 0 0 1 -4.2 9 Z" fill="#1fd29e" stroke="#111" stroke-width="1.8"/>
<path d="M-3.3 -12 L3.3 -12 L3.3 -5 L-3.3 -5 Z" fill="#bff0f4"/>
<rect x="-5.8" y="-15.5" width="11.6" height="3" rx="1.3" fill="#bff0f4" stroke="#111" stroke-width="1.6"/>
</g>
<g stroke="#111" stroke-width="1.5">
<path d="M112 1826 L114 1822.5 L124.5 1822.5 L127 1826 Z" fill="#8a1010"/>
<path d="M109 1827 Q109 1825.5 111 1825.5 L128 1825.5 Q130 1825.5 130 1827 L130 1831.5 L109 1831.5 Z" fill="#f22a12"/>
<circle cx="113" cy="1832" r="2.2" fill="#4a6a7a"/><circle cx="125.5" cy="1832" r="2.2" fill="#4a6a7a"/>
</g>
<rect x="114.5" y="1823.5" width="4" height="2.5" fill="#20e0f0"/><rect x="120" y="1823.5" width="4" height="2.5" fill="#20e0f0"/>
<g transform="translate(122.3 1940.2) rotate(-43) scale(0.87)" stroke="#111" stroke-width="1.8" stroke-linejoin="round"><path d="M3 -2 L-5 -13.5 L-8.5 -13.5 L-4 -2 Z" fill="#1e8ef0"/><path d="M3 2 L-5 13.5 L-8.5 13.5 L-4 2 Z" fill="#1e8ef0"/><path d="M-9 -1.5 L-12.5 -6.5 L-14.5 -6.5 L-13 -1.5 Z" fill="#1e8ef0"/><path d="M-9 1.5 L-12.5 6.5 L-14.5 6.5 L-13 1.5 Z" fill="#1e8ef0"/><path d="M-14 -2.3 L9 -2.3 Q14 0 9 2.3 L-14 2.3 Z" fill="#f4fbff"/></g>
<rect x="119" y="2052" width="12" height="12.5" rx="1" fill="#111"/>
<rect x="121" y="2057" width="8" height="6" fill="#f02010"/>
<rect x="121" y="2054" width="8" height="3" fill="#9aa0a8"/>
<path d="M110 2046 Q110 2043.5 114 2043.5 L127 2044 Q130 2044.5 130 2047 L130 2049 L117.5 2049 L117.5 2064.5 L113.5 2064.5 L113.5 2049 L110 2049 Z" fill="#d6a418" stroke="#111" stroke-width="1.6"/>
<rect x="111.3" y="2162.7" width="20.3" height="20.6" rx="1.5" fill="#fff" stroke="#111" stroke-width="2"/>
<rect x="112.3" y="2163.7" width="18.3" height="2.5" fill="#1040c0"/>
<circle cx="116.0" cy="2168.5" r="1.3" fill="#10d8f0"/>
<circle cx="121.7" cy="2168.5" r="1.3" fill="#10d8f0"/>
<circle cx="127.4" cy="2168.5" r="1.3" fill="#10d8f0"/>
<circle cx="116.0" cy="2174.1" r="1.3" fill="#10d8f0"/>
<circle cx="121.7" cy="2174.1" r="1.3" fill="#10d8f0"/>
<circle cx="127.4" cy="2174.1" r="1.3" fill="#10d8f0"/>
<circle cx="116.0" cy="2179.7" r="1.3" fill="#10d8f0"/>
<circle cx="127.4" cy="2179.7" r="1.3" fill="#10d8f0"/>
<rect x="119.3" y="2177" width="4.5" height="6" fill="#10e0f0"/>
<rect x="120" y="2283" width="10" height="17" rx="1" fill="#111"/>
<rect x="121.5" y="2285.5" width="7" height="6" fill="#e8203a"/><path d="M125 2286.5 v4 M123 2288.5 h4" stroke="#fff" stroke-width="1.2"/>
<rect x="110" y="2279.4" width="12.5" height="20.6" rx="1" fill="#fff" stroke="#111" stroke-width="2"/>
<rect x="111" y="2280.4" width="10.5" height="2" fill="#e01020"/>
<circle cx="113.5" cy="2284.5" r="1.2" fill="#10d8f0"/>
<circle cx="118.5" cy="2284.5" r="1.2" fill="#10d8f0"/>
<circle cx="113.5" cy="2289.5" r="1.2" fill="#10d8f0"/>
<circle cx="118.5" cy="2289.5" r="1.2" fill="#10d8f0"/>
<rect x="113" y="2294" width="6.5" height="5.5" fill="#10e0f0"/>
<rect x="110.3" y="2397.4" width="13.6" height="21.6" rx="1.8" fill="#111"/>
<rect x="112.8" y="2400.3" width="8" height="15.5" fill="#10a8e8"/>
<path d="M113 2403 h7 M113 2407 h7 M113 2411 h7" stroke="#1070b8" stroke-width="1"/>
<path d="M119.5 2517 L107.5 2528.5 L115 2528.5 L113 2536.8 L126.3 2525.5 L118.5 2525.5 L119.5 2517 Z" fill="#fcd020" stroke="#111" stroke-width="1.6" stroke-linejoin="round"/>
<g>
<path d="M74.2 3092.5 a128.5 39.5 0 1 0 257.0 0 a128.5 39.5 0 1 0 -257.0 0 Z M88.1 3090.3 a114.5 31 0 1 0 229.0 0 a114.5 31 0 1 0 -229.0 0 Z" fill="#0c4ec6" fill-rule="evenodd"/>
<path d="M128.0 3089.3 a75 19.8 0 1 0 150 0 a75 19.8 0 1 0 -150 0 Z M140.2 3087.2 a62.8 11.6 0 1 0 125.6 0 a62.8 11.6 0 1 0 -125.6 0 Z" fill="#0c4ec6" fill-rule="evenodd"/>
<clipPath id="pinclip"><rect x="0" y="2800" width="400" height="280"/></clipPath><path d="M139.6 2994.5 A75.5 75.5 0 1 1 265.8 2994.5 L202.7 3090.3 Z" fill="#fff" stroke="#fff" stroke-width="22" clip-path="url(#pinclip)"/><path d="M139.6 2994.5 A75.5 75.5 0 1 1 265.8 2994.5 L202.7 3090.3 Z" fill="#0c4ec6"/>
<circle cx="202.6" cy="2954" r="36.4" fill="#fff"/>
</g>
<rect x="843" y="2869" width="151" height="155" fill="#fff"/>
<rect x="849.1" y="2876.6" width="23.7" height="23.7" rx="3.5" fill="none" stroke="#000" stroke-width="3.4"/><rect x="855.2" y="2882.7" width="11.5" height="11.5" rx="1.2" fill="#000"/>
<rect x="964.2" y="2876.6" width="23.7" height="23.7" rx="3.5" fill="none" stroke="#000" stroke-width="3.4"/><rect x="970.3" y="2882.7" width="11.5" height="11.5" rx="1.2" fill="#000"/>
<rect x="849.1" y="2991.7" width="23.7" height="23.7" rx="3.5" fill="none" stroke="#000" stroke-width="3.4"/><rect x="855.2" y="2997.8" width="11.5" height="11.5" rx="1.2" fill="#000"/>
<g fill="#000"><circle cx="880.1" cy="2876.9" r="2.07"/><circle cx="891.6" cy="2876.9" r="2.07"/><circle cx="903.1" cy="2876.9" r="2.07"/><circle cx="918.5" cy="2876.9" r="2.07"/><circle cx="922.3" cy="2876.9" r="2.07"/><circle cx="926.2" cy="2876.9" r="2.07"/><circle cx="937.7" cy="2876.9" r="2.07"/><circle cx="956.9" cy="2876.9" r="2.07"/><circle cx="880.1" cy="2880.8" r="2.07"/><circle cx="887.8" cy="2880.8" r="2.07"/><circle cx="891.6" cy="2880.8" r="2.07"/><circle cx="895.5" cy="2880.8" r="2.07"/><circle cx="899.3" cy="2880.8" r="2.07"/><circle cx="903.1" cy="2880.8" r="2.07"/><circle cx="907.0" cy="2880.8" r="2.07"/><circle cx="922.3" cy="2880.8" r="2.07"/><circle cx="930.0" cy="2880.8" r="2.07"/><circle cx="933.9" cy="2880.8" r="2.07"/><circle cx="953.0" cy="2880.8" r="2.07"/><circle cx="956.9" cy="2880.8" r="2.07"/><circle cx="880.1" cy="2884.6" r="2.07"/><circle cx="884.0" cy="2884.6" r="2.07"/><circle cx="891.6" cy="2884.6" r="2.07"/><circle cx="899.3" cy="2884.6" r="2.07"/><circle cx="910.8" cy="2884.6" r="2.07"/><circle cx="914.7" cy="2884.6" r="2.07"/><circle cx="922.3" cy="2884.6" r="2.07"/><circle cx="930.0" cy="2884.6" r="2.07"/><circle cx="933.9" cy="2884.6" r="2.07"/><circle cx="945.4" cy="2884.6" r="2.07"/><circle cx="949.2" cy="2884.6" r="2.07"/><circle cx="953.0" cy="2884.6" r="2.07"/><circle cx="884.0" cy="2888.4" r="2.07"/><circle cx="887.8" cy="2888.4" r="2.07"/><circle cx="891.6" cy="2888.4" r="2.07"/><circle cx="895.5" cy="2888.4" r="2.07"/><circle cx="903.1" cy="2888.4" r="2.07"/><circle cx="910.8" cy="2888.4" r="2.07"/><circle cx="914.7" cy="2888.4" r="2.07"/><circle cx="922.3" cy="2888.4" r="2.07"/><circle cx="930.0" cy="2888.4" r="2.07"/><circle cx="933.9" cy="2888.4" r="2.07"/><circle cx="937.7" cy="2888.4" r="2.07"/><circle cx="941.5" cy="2888.4" r="2.07"/><circle cx="953.0" cy="2888.4" r="2.07"/><circle cx="880.1" cy="2892.3" r="2.07"/><circle cx="884.0" cy="2892.3" r="2.07"/><circle cx="895.5" cy="2892.3" r="2.07"/><circle cx="903.1" cy="2892.3" r="2.07"/><circle cx="907.0" cy="2892.3" r="2.07"/><circle cx="914.7" cy="2892.3" r="2.07"/><circle cx="918.5" cy="2892.3" r="2.07"/><circle cx="922.3" cy="2892.3" r="2.07"/><circle cx="926.2" cy="2892.3" r="2.07"/><circle cx="933.9" cy="2892.3" r="2.07"/><circle cx="941.5" cy="2892.3" r="2.07"/><circle cx="945.4" cy="2892.3" r="2.07"/><circle cx="953.0" cy="2892.3" r="2.07"/><circle cx="884.0" cy="2896.1" r="2.07"/><circle cx="887.8" cy="2896.1" r="2.07"/><circle cx="899.3" cy="2896.1" r="2.07"/><circle cx="903.1" cy="2896.1" r="2.07"/><circle cx="914.7" cy="2896.1" r="2.07"/><circle cx="930.0" cy="2896.1" r="2.07"/><circle cx="933.9" cy="2896.1" r="2.07"/><circle cx="937.7" cy="2896.1" r="2.07"/><circle cx="945.4" cy="2896.1" r="2.07"/><circle cx="953.0" cy="2896.1" r="2.07"/><circle cx="884.0" cy="2899.9" r="2.07"/><circle cx="887.8" cy="2899.9" r="2.07"/><circle cx="895.5" cy="2899.9" r="2.07"/><circle cx="899.3" cy="2899.9" r="2.07"/><circle cx="914.7" cy="2899.9" r="2.07"/><circle cx="922.3" cy="2899.9" r="2.07"/><circle cx="926.2" cy="2899.9" r="2.07"/><circle cx="930.0" cy="2899.9" r="2.07"/><circle cx="933.9" cy="2899.9" r="2.07"/><circle cx="937.7" cy="2899.9" r="2.07"/><circle cx="941.5" cy="2899.9" r="2.07"/><circle cx="945.4" cy="2899.9" r="2.07"/><circle cx="953.0" cy="2899.9" r="2.07"/><circle cx="956.9" cy="2899.9" r="2.07"/><circle cx="899.3" cy="2903.8" r="2.07"/><circle cx="903.1" cy="2903.8" r="2.07"/><circle cx="907.0" cy="2903.8" r="2.07"/><circle cx="922.3" cy="2903.8" r="2.07"/><circle cx="930.0" cy="2903.8" r="2.07"/><circle cx="937.7" cy="2903.8" r="2.07"/><circle cx="945.4" cy="2903.8" r="2.07"/><circle cx="864.8" cy="2907.6" r="2.07"/><circle cx="880.1" cy="2907.6" r="2.07"/><circle cx="899.3" cy="2907.6" r="2.07"/><circle cx="910.8" cy="2907.6" r="2.07"/><circle cx="930.0" cy="2907.6" r="2.07"/><circle cx="941.5" cy="2907.6" r="2.07"/><circle cx="949.2" cy="2907.6" r="2.07"/><circle cx="956.9" cy="2907.6" r="2.07"/><circle cx="964.6" cy="2907.6" r="2.07"/><circle cx="968.4" cy="2907.6" r="2.07"/><circle cx="976.1" cy="2907.6" r="2.07"/><circle cx="987.6" cy="2907.6" r="2.07"/><circle cx="849.4" cy="2911.5" r="2.07"/><circle cx="853.3" cy="2911.5" r="2.07"/><circle cx="860.9" cy="2911.5" r="2.07"/><circle cx="864.8" cy="2911.5" r="2.07"/><circle cx="876.3" cy="2911.5" r="2.07"/><circle cx="884.0" cy="2911.5" r="2.07"/><circle cx="891.6" cy="2911.5" r="2.07"/><circle cx="895.5" cy="2911.5" r="2.07"/><circle cx="910.8" cy="2911.5" r="2.07"/><circle cx="918.5" cy="2911.5" r="2.07"/><circle cx="922.3" cy="2911.5" r="2.07"/><circle cx="926.2" cy="2911.5" r="2.07"/><circle cx="945.4" cy="2911.5" r="2.07"/><circle cx="949.2" cy="2911.5" r="2.07"/><circle cx="953.0" cy="2911.5" r="2.07"/><circle cx="956.9" cy="2911.5" r="2.07"/><circle cx="960.7" cy="2911.5" r="2.07"/><circle cx="964.6" cy="2911.5" r="2.07"/><circle cx="972.2" cy="2911.5" r="2.07"/><circle cx="976.1" cy="2911.5" r="2.07"/><circle cx="987.6" cy="2911.5" r="2.07"/><circle cx="849.4" cy="2915.3" r="2.07"/><circle cx="853.3" cy="2915.3" r="2.07"/><circle cx="860.9" cy="2915.3" r="2.07"/><circle cx="872.4" cy="2915.3" r="2.07"/><circle cx="880.1" cy="2915.3" r="2.07"/><circle cx="884.0" cy="2915.3" r="2.07"/><circle cx="887.8" cy="2915.3" r="2.07"/><circle cx="891.6" cy="2915.3" r="2.07"/><circle cx="899.3" cy="2915.3" r="2.07"/><circle cx="903.1" cy="2915.3" r="2.07"/><circle cx="907.0" cy="2915.3" r="2.07"/><circle cx="914.7" cy="2915.3" r="2.07"/><circle cx="937.7" cy="2915.3" r="2.07"/><circle cx="941.5" cy="2915.3" r="2.07"/><circle cx="945.4" cy="2915.3" r="2.07"/><circle cx="949.2" cy="2915.3" r="2.07"/><circle cx="953.0" cy="2915.3" r="2.07"/><circle cx="960.7" cy="2915.3" r="2.07"/><circle cx="964.6" cy="2915.3" r="2.07"/><circle cx="968.4" cy="2915.3" r="2.07"/><circle cx="987.6" cy="2915.3" r="2.07"/><circle cx="857.1" cy="2919.1" r="2.07"/><circle cx="868.6" cy="2919.1" r="2.07"/><circle cx="872.4" cy="2919.1" r="2.07"/><circle cx="884.0" cy="2919.1" r="2.07"/><circle cx="903.1" cy="2919.1" r="2.07"/><circle cx="910.8" cy="2919.1" r="2.07"/><circle cx="930.0" cy="2919.1" r="2.07"/><circle cx="953.0" cy="2919.1" r="2.07"/><circle cx="964.6" cy="2919.1" r="2.07"/><circle cx="968.4" cy="2919.1" r="2.07"/><circle cx="972.2" cy="2919.1" r="2.07"/><circle cx="983.7" cy="2919.1" r="2.07"/><circle cx="987.6" cy="2919.1" r="2.07"/><circle cx="853.3" cy="2923.0" r="2.07"/><circle cx="860.9" cy="2923.0" r="2.07"/><circle cx="864.8" cy="2923.0" r="2.07"/><circle cx="872.4" cy="2923.0" r="2.07"/><circle cx="876.3" cy="2923.0" r="2.07"/><circle cx="899.3" cy="2923.0" r="2.07"/><circle cx="907.0" cy="2923.0" r="2.07"/><circle cx="910.8" cy="2923.0" r="2.07"/><circle cx="918.5" cy="2923.0" r="2.07"/><circle cx="941.5" cy="2923.0" r="2.07"/><circle cx="945.4" cy="2923.0" r="2.07"/><circle cx="956.9" cy="2923.0" r="2.07"/><circle cx="976.1" cy="2923.0" r="2.07"/><circle cx="849.4" cy="2926.8" r="2.07"/><circle cx="860.9" cy="2926.8" r="2.07"/><circle cx="872.4" cy="2926.8" r="2.07"/><circle cx="880.1" cy="2926.8" r="2.07"/><circle cx="887.8" cy="2926.8" r="2.07"/><circle cx="899.3" cy="2926.8" r="2.07"/><circle cx="903.1" cy="2926.8" r="2.07"/><circle cx="907.0" cy="2926.8" r="2.07"/><circle cx="910.8" cy="2926.8" r="2.07"/><circle cx="922.3" cy="2926.8" r="2.07"/><circle cx="926.2" cy="2926.8" r="2.07"/><circle cx="930.0" cy="2926.8" r="2.07"/><circle cx="941.5" cy="2926.8" r="2.07"/><circle cx="949.2" cy="2926.8" r="2.07"/><circle cx="953.0" cy="2926.8" r="2.07"/><circle cx="956.9" cy="2926.8" r="2.07"/><circle cx="964.6" cy="2926.8" r="2.07"/><circle cx="968.4" cy="2926.8" r="2.07"/><circle cx="976.1" cy="2926.8" r="2.07"/><circle cx="983.7" cy="2926.8" r="2.07"/><circle cx="849.4" cy="2930.6" r="2.07"/><circle cx="853.3" cy="2930.6" r="2.07"/><circle cx="860.9" cy="2930.6" r="2.07"/><circle cx="864.8" cy="2930.6" r="2.07"/><circle cx="868.6" cy="2930.6" r="2.07"/><circle cx="876.3" cy="2930.6" r="2.07"/><circle cx="880.1" cy="2930.6" r="2.07"/><circle cx="941.5" cy="2930.6" r="2.07"/><circle cx="956.9" cy="2930.6" r="2.07"/><circle cx="960.7" cy="2930.6" r="2.07"/><circle cx="968.4" cy="2930.6" r="2.07"/><circle cx="979.9" cy="2930.6" r="2.07"/><circle cx="983.7" cy="2930.6" r="2.07"/><circle cx="849.4" cy="2934.5" r="2.07"/><circle cx="853.3" cy="2934.5" r="2.07"/><circle cx="860.9" cy="2934.5" r="2.07"/><circle cx="868.6" cy="2934.5" r="2.07"/><circle cx="872.4" cy="2934.5" r="2.07"/><circle cx="880.1" cy="2934.5" r="2.07"/><circle cx="884.0" cy="2934.5" r="2.07"/><circle cx="899.3" cy="2934.5" r="2.07"/><circle cx="953.0" cy="2934.5" r="2.07"/><circle cx="956.9" cy="2934.5" r="2.07"/><circle cx="960.7" cy="2934.5" r="2.07"/><circle cx="964.6" cy="2934.5" r="2.07"/><circle cx="979.9" cy="2934.5" r="2.07"/><circle cx="983.7" cy="2934.5" r="2.07"/><circle cx="987.6" cy="2934.5" r="2.07"/><circle cx="860.9" cy="2938.3" r="2.07"/><circle cx="864.8" cy="2938.3" r="2.07"/><circle cx="872.4" cy="2938.3" r="2.07"/><circle cx="880.1" cy="2938.3" r="2.07"/><circle cx="884.0" cy="2938.3" r="2.07"/><circle cx="891.6" cy="2938.3" r="2.07"/><circle cx="899.3" cy="2938.3" r="2.07"/><circle cx="945.4" cy="2938.3" r="2.07"/><circle cx="949.2" cy="2938.3" r="2.07"/><circle cx="956.9" cy="2938.3" r="2.07"/><circle cx="960.7" cy="2938.3" r="2.07"/><circle cx="964.6" cy="2938.3" r="2.07"/><circle cx="972.2" cy="2938.3" r="2.07"/><circle cx="853.3" cy="2942.2" r="2.07"/><circle cx="872.4" cy="2942.2" r="2.07"/><circle cx="891.6" cy="2942.2" r="2.07"/><circle cx="949.2" cy="2942.2" r="2.07"/><circle cx="956.9" cy="2942.2" r="2.07"/><circle cx="960.7" cy="2942.2" r="2.07"/><circle cx="964.6" cy="2942.2" r="2.07"/><circle cx="968.4" cy="2942.2" r="2.07"/><circle cx="972.2" cy="2942.2" r="2.07"/><circle cx="983.7" cy="2942.2" r="2.07"/><circle cx="853.3" cy="2946.0" r="2.07"/><circle cx="868.6" cy="2946.0" r="2.07"/><circle cx="891.6" cy="2946.0" r="2.07"/><circle cx="937.7" cy="2946.0" r="2.07"/><circle cx="941.5" cy="2946.0" r="2.07"/><circle cx="945.4" cy="2946.0" r="2.07"/><circle cx="949.2" cy="2946.0" r="2.07"/><circle cx="953.0" cy="2946.0" r="2.07"/><circle cx="956.9" cy="2946.0" r="2.07"/><circle cx="960.7" cy="2946.0" r="2.07"/><circle cx="853.3" cy="2949.8" r="2.07"/><circle cx="864.8" cy="2949.8" r="2.07"/><circle cx="872.4" cy="2949.8" r="2.07"/><circle cx="876.3" cy="2949.8" r="2.07"/><circle cx="880.1" cy="2949.8" r="2.07"/><circle cx="884.0" cy="2949.8" r="2.07"/><circle cx="891.6" cy="2949.8" r="2.07"/><circle cx="899.3" cy="2949.8" r="2.07"/><circle cx="945.4" cy="2949.8" r="2.07"/><circle cx="949.2" cy="2949.8" r="2.07"/><circle cx="960.7" cy="2949.8" r="2.07"/><circle cx="968.4" cy="2949.8" r="2.07"/><circle cx="972.2" cy="2949.8" r="2.07"/><circle cx="976.1" cy="2949.8" r="2.07"/><circle cx="979.9" cy="2949.8" r="2.07"/><circle cx="983.7" cy="2949.8" r="2.07"/><circle cx="849.4" cy="2953.7" r="2.07"/><circle cx="860.9" cy="2953.7" r="2.07"/><circle cx="872.4" cy="2953.7" r="2.07"/><circle cx="880.1" cy="2953.7" r="2.07"/><circle cx="884.0" cy="2953.7" r="2.07"/><circle cx="891.6" cy="2953.7" r="2.07"/><circle cx="941.5" cy="2953.7" r="2.07"/><circle cx="956.9" cy="2953.7" r="2.07"/><circle cx="964.6" cy="2953.7" r="2.07"/><circle cx="968.4" cy="2953.7" r="2.07"/><circle cx="972.2" cy="2953.7" r="2.07"/><circle cx="979.9" cy="2953.7" r="2.07"/><circle cx="983.7" cy="2953.7" r="2.07"/><circle cx="849.4" cy="2957.5" r="2.07"/><circle cx="853.3" cy="2957.5" r="2.07"/><circle cx="860.9" cy="2957.5" r="2.07"/><circle cx="884.0" cy="2957.5" r="2.07"/><circle cx="887.8" cy="2957.5" r="2.07"/><circle cx="937.7" cy="2957.5" r="2.07"/><circle cx="941.5" cy="2957.5" r="2.07"/><circle cx="964.6" cy="2957.5" r="2.07"/><circle cx="968.4" cy="2957.5" r="2.07"/><circle cx="983.7" cy="2957.5" r="2.07"/><circle cx="987.6" cy="2957.5" r="2.07"/><circle cx="849.4" cy="2961.4" r="2.07"/><circle cx="853.3" cy="2961.4" r="2.07"/><circle cx="860.9" cy="2961.4" r="2.07"/><circle cx="868.6" cy="2961.4" r="2.07"/><circle cx="872.4" cy="2961.4" r="2.07"/><circle cx="887.8" cy="2961.4" r="2.07"/><circle cx="891.6" cy="2961.4" r="2.07"/><circle cx="895.5" cy="2961.4" r="2.07"/><circle cx="899.3" cy="2961.4" r="2.07"/><circle cx="945.4" cy="2961.4" r="2.07"/><circle cx="949.2" cy="2961.4" r="2.07"/><circle cx="964.6" cy="2961.4" r="2.07"/><circle cx="968.4" cy="2961.4" r="2.07"/><circle cx="972.2" cy="2961.4" r="2.07"/><circle cx="979.9" cy="2961.4" r="2.07"/><circle cx="849.4" cy="2965.2" r="2.07"/><circle cx="864.8" cy="2965.2" r="2.07"/><circle cx="868.6" cy="2965.2" r="2.07"/><circle cx="872.4" cy="2965.2" r="2.07"/><circle cx="880.1" cy="2965.2" r="2.07"/><circle cx="884.0" cy="2965.2" r="2.07"/><circle cx="891.6" cy="2965.2" r="2.07"/><circle cx="899.3" cy="2965.2" r="2.07"/><circle cx="907.0" cy="2965.2" r="2.07"/><circle cx="910.8" cy="2965.2" r="2.07"/><circle cx="918.5" cy="2965.2" r="2.07"/><circle cx="922.3" cy="2965.2" r="2.07"/><circle cx="933.9" cy="2965.2" r="2.07"/><circle cx="937.7" cy="2965.2" r="2.07"/><circle cx="941.5" cy="2965.2" r="2.07"/><circle cx="949.2" cy="2965.2" r="2.07"/><circle cx="953.0" cy="2965.2" r="2.07"/><circle cx="976.1" cy="2965.2" r="2.07"/><circle cx="983.7" cy="2965.2" r="2.07"/><circle cx="987.6" cy="2965.2" r="2.07"/><circle cx="849.4" cy="2969.0" r="2.07"/><circle cx="860.9" cy="2969.0" r="2.07"/><circle cx="864.8" cy="2969.0" r="2.07"/><circle cx="868.6" cy="2969.0" r="2.07"/><circle cx="872.4" cy="2969.0" r="2.07"/><circle cx="876.3" cy="2969.0" r="2.07"/><circle cx="880.1" cy="2969.0" r="2.07"/><circle cx="884.0" cy="2969.0" r="2.07"/><circle cx="907.0" cy="2969.0" r="2.07"/><circle cx="918.5" cy="2969.0" r="2.07"/><circle cx="922.3" cy="2969.0" r="2.07"/><circle cx="949.2" cy="2969.0" r="2.07"/><circle cx="960.7" cy="2969.0" r="2.07"/><circle cx="964.6" cy="2969.0" r="2.07"/><circle cx="976.1" cy="2969.0" r="2.07"/><circle cx="983.7" cy="2969.0" r="2.07"/><circle cx="853.3" cy="2972.9" r="2.07"/><circle cx="857.1" cy="2972.9" r="2.07"/><circle cx="872.4" cy="2972.9" r="2.07"/><circle cx="876.3" cy="2972.9" r="2.07"/><circle cx="887.8" cy="2972.9" r="2.07"/><circle cx="907.0" cy="2972.9" r="2.07"/><circle cx="953.0" cy="2972.9" r="2.07"/><circle cx="956.9" cy="2972.9" r="2.07"/><circle cx="960.7" cy="2972.9" r="2.07"/><circle cx="972.2" cy="2972.9" r="2.07"/><circle cx="976.1" cy="2972.9" r="2.07"/><circle cx="979.9" cy="2972.9" r="2.07"/><circle cx="983.7" cy="2972.9" r="2.07"/><circle cx="987.6" cy="2972.9" r="2.07"/><circle cx="853.3" cy="2976.7" r="2.07"/><circle cx="857.1" cy="2976.7" r="2.07"/><circle cx="860.9" cy="2976.7" r="2.07"/><circle cx="872.4" cy="2976.7" r="2.07"/><circle cx="876.3" cy="2976.7" r="2.07"/><circle cx="880.1" cy="2976.7" r="2.07"/><circle cx="891.6" cy="2976.7" r="2.07"/><circle cx="895.5" cy="2976.7" r="2.07"/><circle cx="899.3" cy="2976.7" r="2.07"/><circle cx="903.1" cy="2976.7" r="2.07"/><circle cx="907.0" cy="2976.7" r="2.07"/><circle cx="918.5" cy="2976.7" r="2.07"/><circle cx="922.3" cy="2976.7" r="2.07"/><circle cx="926.2" cy="2976.7" r="2.07"/><circle cx="930.0" cy="2976.7" r="2.07"/><circle cx="937.7" cy="2976.7" r="2.07"/><circle cx="949.2" cy="2976.7" r="2.07"/><circle cx="953.0" cy="2976.7" r="2.07"/><circle cx="964.6" cy="2976.7" r="2.07"/><circle cx="976.1" cy="2976.7" r="2.07"/><circle cx="979.9" cy="2976.7" r="2.07"/><circle cx="983.7" cy="2976.7" r="2.07"/><circle cx="853.3" cy="2980.5" r="2.07"/><circle cx="864.8" cy="2980.5" r="2.07"/><circle cx="876.3" cy="2980.5" r="2.07"/><circle cx="880.1" cy="2980.5" r="2.07"/><circle cx="884.0" cy="2980.5" r="2.07"/><circle cx="887.8" cy="2980.5" r="2.07"/><circle cx="903.1" cy="2980.5" r="2.07"/><circle cx="907.0" cy="2980.5" r="2.07"/><circle cx="910.8" cy="2980.5" r="2.07"/><circle cx="914.7" cy="2980.5" r="2.07"/><circle cx="933.9" cy="2980.5" r="2.07"/><circle cx="941.5" cy="2980.5" r="2.07"/><circle cx="949.2" cy="2980.5" r="2.07"/><circle cx="964.6" cy="2980.5" r="2.07"/><circle cx="968.4" cy="2980.5" r="2.07"/><circle cx="976.1" cy="2980.5" r="2.07"/><circle cx="979.9" cy="2980.5" r="2.07"/><circle cx="983.7" cy="2980.5" r="2.07"/><circle cx="857.1" cy="2984.4" r="2.07"/><circle cx="864.8" cy="2984.4" r="2.07"/><circle cx="872.4" cy="2984.4" r="2.07"/><circle cx="880.1" cy="2984.4" r="2.07"/><circle cx="891.6" cy="2984.4" r="2.07"/><circle cx="899.3" cy="2984.4" r="2.07"/><circle cx="903.1" cy="2984.4" r="2.07"/><circle cx="907.0" cy="2984.4" r="2.07"/><circle cx="910.8" cy="2984.4" r="2.07"/><circle cx="914.7" cy="2984.4" r="2.07"/><circle cx="922.3" cy="2984.4" r="2.07"/><circle cx="930.0" cy="2984.4" r="2.07"/><circle cx="933.9" cy="2984.4" r="2.07"/><circle cx="937.7" cy="2984.4" r="2.07"/><circle cx="953.0" cy="2984.4" r="2.07"/><circle cx="956.9" cy="2984.4" r="2.07"/><circle cx="964.6" cy="2984.4" r="2.07"/><circle cx="972.2" cy="2984.4" r="2.07"/><circle cx="976.1" cy="2984.4" r="2.07"/><circle cx="987.6" cy="2984.4" r="2.07"/><circle cx="884.0" cy="2988.2" r="2.07"/><circle cx="887.8" cy="2988.2" r="2.07"/><circle cx="895.5" cy="2988.2" r="2.07"/><circle cx="899.3" cy="2988.2" r="2.07"/><circle cx="903.1" cy="2988.2" r="2.07"/><circle cx="910.8" cy="2988.2" r="2.07"/><circle cx="914.7" cy="2988.2" r="2.07"/><circle cx="922.3" cy="2988.2" r="2.07"/><circle cx="937.7" cy="2988.2" r="2.07"/><circle cx="945.4" cy="2988.2" r="2.07"/><circle cx="949.2" cy="2988.2" r="2.07"/><circle cx="953.0" cy="2988.2" r="2.07"/><circle cx="964.6" cy="2988.2" r="2.07"/><circle cx="968.4" cy="2988.2" r="2.07"/><circle cx="979.9" cy="2988.2" r="2.07"/><circle cx="983.7" cy="2988.2" r="2.07"/><circle cx="987.6" cy="2988.2" r="2.07"/><circle cx="880.1" cy="2992.1" r="2.07"/><circle cx="884.0" cy="2992.1" r="2.07"/><circle cx="887.8" cy="2992.1" r="2.07"/><circle cx="895.5" cy="2992.1" r="2.07"/><circle cx="914.7" cy="2992.1" r="2.07"/><circle cx="918.5" cy="2992.1" r="2.07"/><circle cx="922.3" cy="2992.1" r="2.07"/><circle cx="926.2" cy="2992.1" r="2.07"/><circle cx="930.0" cy="2992.1" r="2.07"/><circle cx="953.0" cy="2992.1" r="2.07"/><circle cx="956.9" cy="2992.1" r="2.07"/><circle cx="960.7" cy="2992.1" r="2.07"/><circle cx="968.4" cy="2992.1" r="2.07"/><circle cx="972.2" cy="2992.1" r="2.07"/><circle cx="880.1" cy="2995.9" r="2.07"/><circle cx="895.5" cy="2995.9" r="2.07"/><circle cx="903.1" cy="2995.9" r="2.07"/><circle cx="926.2" cy="2995.9" r="2.07"/><circle cx="937.7" cy="2995.9" r="2.07"/><circle cx="941.5" cy="2995.9" r="2.07"/><circle cx="945.4" cy="2995.9" r="2.07"/><circle cx="956.9" cy="2995.9" r="2.07"/><circle cx="964.6" cy="2995.9" r="2.07"/><circle cx="968.4" cy="2995.9" r="2.07"/><circle cx="972.2" cy="2995.9" r="2.07"/><circle cx="979.9" cy="2995.9" r="2.07"/><circle cx="887.8" cy="2999.7" r="2.07"/><circle cx="907.0" cy="2999.7" r="2.07"/><circle cx="914.7" cy="2999.7" r="2.07"/><circle cx="922.3" cy="2999.7" r="2.07"/><circle cx="933.9" cy="2999.7" r="2.07"/><circle cx="941.5" cy="2999.7" r="2.07"/><circle cx="945.4" cy="2999.7" r="2.07"/><circle cx="949.2" cy="2999.7" r="2.07"/><circle cx="964.6" cy="2999.7" r="2.07"/><circle cx="976.1" cy="2999.7" r="2.07"/><circle cx="987.6" cy="2999.7" r="2.07"/><circle cx="880.1" cy="3003.6" r="2.07"/><circle cx="884.0" cy="3003.6" r="2.07"/><circle cx="887.8" cy="3003.6" r="2.07"/><circle cx="891.6" cy="3003.6" r="2.07"/><circle cx="899.3" cy="3003.6" r="2.07"/><circle cx="907.0" cy="3003.6" r="2.07"/><circle cx="914.7" cy="3003.6" r="2.07"/><circle cx="922.3" cy="3003.6" r="2.07"/><circle cx="930.0" cy="3003.6" r="2.07"/><circle cx="941.5" cy="3003.6" r="2.07"/><circle cx="945.4" cy="3003.6" r="2.07"/><circle cx="964.6" cy="3003.6" r="2.07"/><circle cx="979.9" cy="3003.6" r="2.07"/><circle cx="983.7" cy="3003.6" r="2.07"/><circle cx="891.6" cy="3007.4" r="2.07"/><circle cx="899.3" cy="3007.4" r="2.07"/><circle cx="903.1" cy="3007.4" r="2.07"/><circle cx="926.2" cy="3007.4" r="2.07"/><circle cx="933.9" cy="3007.4" r="2.07"/><circle cx="937.7" cy="3007.4" r="2.07"/><circle cx="941.5" cy="3007.4" r="2.07"/><circle cx="949.2" cy="3007.4" r="2.07"/><circle cx="953.0" cy="3007.4" r="2.07"/><circle cx="964.6" cy="3007.4" r="2.07"/><circle cx="968.4" cy="3007.4" r="2.07"/><circle cx="972.2" cy="3007.4" r="2.07"/><circle cx="976.1" cy="3007.4" r="2.07"/><circle cx="979.9" cy="3007.4" r="2.07"/><circle cx="887.8" cy="3011.2" r="2.07"/><circle cx="895.5" cy="3011.2" r="2.07"/><circle cx="910.8" cy="3011.2" r="2.07"/><circle cx="918.5" cy="3011.2" r="2.07"/><circle cx="930.0" cy="3011.2" r="2.07"/><circle cx="933.9" cy="3011.2" r="2.07"/><circle cx="937.7" cy="3011.2" r="2.07"/><circle cx="941.5" cy="3011.2" r="2.07"/><circle cx="945.4" cy="3011.2" r="2.07"/><circle cx="956.9" cy="3011.2" r="2.07"/><circle cx="960.7" cy="3011.2" r="2.07"/><circle cx="968.4" cy="3011.2" r="2.07"/><circle cx="972.2" cy="3011.2" r="2.07"/><circle cx="979.9" cy="3011.2" r="2.07"/><circle cx="983.7" cy="3011.2" r="2.07"/><circle cx="884.0" cy="3015.1" r="2.07"/><circle cx="887.8" cy="3015.1" r="2.07"/><circle cx="891.6" cy="3015.1" r="2.07"/><circle cx="903.1" cy="3015.1" r="2.07"/><circle cx="910.8" cy="3015.1" r="2.07"/><circle cx="914.7" cy="3015.1" r="2.07"/><circle cx="918.5" cy="3015.1" r="2.07"/><circle cx="930.0" cy="3015.1" r="2.07"/><circle cx="937.7" cy="3015.1" r="2.07"/><circle cx="945.4" cy="3015.1" r="2.07"/><circle cx="949.2" cy="3015.1" r="2.07"/><circle cx="956.9" cy="3015.1" r="2.07"/><circle cx="972.2" cy="3015.1" r="2.07"/><circle cx="983.7" cy="3015.1" r="2.07"/><circle cx="987.6" cy="3015.1" r="2.07"/></g>
<rect x="903.1" y="2930.6" width="30.7" height="30.7" rx="3" fill="#111"/>
<ellipse cx="915.0" cy="2943.5" rx="7" ry="5.8" fill="#fff"/><ellipse cx="922.0" cy="2949.0" rx="6" ry="5" fill="#fff" stroke="#111" stroke-width="1.2"/>
</svg>

<!-- ===== Spec table ===== -->
<div class="sep" style="left:503px;top:159px;width:142px"></div>
<div class="sep" style="left:503px;top:211px;width:142px"></div>
<div class="sep" style="left:503px;top:265px;width:142px"></div>
<div class="sep" style="left:503px;top:317px;width:142px"></div>
<div class="sep" style="left:503px;top:372px;width:142px"></div>
<div class="a lab" style="left:553px;top:126.3px">品牌</div>
<div class="a lab" style="left:553px;top:179.3px">型号</div>
<div class="a lab" style="left:553px;top:229.3px">材质</div>
<div class="a lab" style="left:553px;top:283.3px">通道</div>
<div class="a lab" style="left:553px;top:335.3px">接口</div>
<div class="a val" style="left:654px;top:126.5px">动享千码</div>
<div class="a val" style="left:654px;top:178px;font-size:22.5px"><span class="mo">RTC-1000-1DE</span></div>
<div class="a val" style="left:654px;top:229.5px">铝合金</div>
<div class="a val" style="left:654px;top:284.5px">单<span class="hs">/</span>双<span class="hs">/</span>多通道</div>
<div class="a val" style="left:658.5px;top:331.0px;font-size:19.2px;line-height:20.5px;letter-spacing:0.2px">以太网、<span class="mo">USB</span>、<span class="mo">PCI</span>、模拟量<span class="mo">&nbsp;I/O</span><br>开关量<span class="mo">&nbsp;I/O</span>、急停、伺服阀驱动</div>


<!-- ===== Feature cards ===== -->
<svg style="position:absolute;left:0;top:480px" width="1007" height="380">
<defs><style>.cb{fill:none;stroke:#0c44d8;stroke-width:2.2}</style></defs>
<polygon class="cb" points="44,14 314,14 325,25 325,349 314,360 44,360 33,349 33,25" fill="#fff"/>
<polygon class="cb" points="356,14 625,14 636,25 636,349 625,360 356,360 345,349 345,25"/>
<polygon points="667,14 937,14 948,25 948,349 937,360 667,360 656,349 656,25" fill="#ffffff" stroke="#0c44d8" stroke-width="2.2"/>
<rect x="675" y="81" width="126" height="75" fill="#eef9fd"/>
<rect x="804" y="81" width="127" height="75" fill="#eef9fd"/>
<rect x="675" y="164" width="126" height="75" fill="#eef9fd"/>
<rect x="804" y="164" width="127" height="75" fill="#eef9fd"/>
<rect x="675" y="248" width="126" height="73" fill="#eef9fd"/>
<rect x="804" y="248" width="127" height="73" fill="#eef9fd"/>
</svg>
<div class="a ct" style="left:114.5px;top:513.5px">核心硬件</div>
<div class="a cs" style="left:72.5px;top:558.5px;width:200px">高精度芯片<br>伺服电机<br>精准驱动</div>
<div class="a ct" style="left:427px;top:514px">控制算法</div>
<div class="a cs" style="left:391px;top:556.5px;width:200px">控制算法自动调整输出<br>实时图表显示<br>数据一键导出</div>
<div class="a ct" style="left:751px;top:513.5px">技术参数</div>
<div class="a tp" style="left:701.5px;top:577.5px">控制精度</div>
<div class="a tp" style="left:701.5px;top:610.5px">频率范围</div>
<div class="a tp" style="left:684.5px;top:658px">最高采样频率</div>
<div class="a tp" style="left:684.5px;top:701px">有效采样码数</div>
<div class="a tp" style="left:698.5px;top:760px;font-size:19px">波形丰富</div>
<div class="a tv" style="left:812px;top:578px"><span class="em1">≤</span><span class="mo">0.3%FS</span></div>
<div class="a tv" style="left:815px;top:611px"><span class="mo">0.001Hz-50Hz</span></div>
<div class="a tv" style="left:815px;top:654px;font-size:18.5px"><span class="mo">5kHz</span></div>
<div class="a tv" style="left:815.5px;top:690.5px;font-size:14.8px">动态<span class="mo">5kHz</span></div>
<div class="a tv" style="left:815.5px;top:713.5px;font-size:14.8px;letter-spacing:0.5px">静态<span class="mo">50Hz</span></div>
<div class="a tv" style="left:816px;top:746.5px;font-size:15px;line-height:18px;font-weight:bold;letter-spacing:0.2px">正弦波、三角波<br>方波、自定义波<br>等多种波形</div>

<!-- ===== Banner ===== -->
<div style="position:absolute;left:32px;top:864px;width:458px;height:85px;border-radius:6px;background:linear-gradient(180deg,#2270f2 0%,#1454de 45%,#0839c8 100%)"></div>
<div class="a" style="left:48px;top:890px;font-size:30px;font-weight:bold;color:#fff">多通道疲劳<span class="sl">/</span>扭转疲劳<span class="sl">/</span>拉压疲劳</div>


<!-- ===== Diagram ===== -->
<svg style="position:absolute;left:0;top:960px" width="1007" height="600" id="dg">
<defs>
<marker id="ah" markerWidth="8" markerHeight="8" refX="7" refY="4" orient="auto" markerUnits="userSpaceOnUse"><path d="M0,0.8 L8,4 L0,7.2 Z" fill="#222"/></marker>
</defs>
<g fill="none" stroke="#c6c6c6" stroke-width="1" stroke-dasharray="2 3">
<circle cx="106.5" cy="124" r="71"/>
<circle cx="233" cy="125" r="73"/>
<circle cx="169.5" cy="240" r="73"/>
<circle cx="171" cy="461" r="74"/>
<circle cx="830" cy="243" r="73"/>
<circle cx="830" cy="375" r="73"/>
<circle cx="526" cy="312" r="125.5" stroke="#c4c4c4" stroke-width="1.3" stroke-dasharray="5 4"/>
</g>
<circle cx="526" cy="312" r="118.5" fill="none" stroke="#22aef2" stroke-width="1.6"/>
<g stroke="#333" stroke-width="1.3" fill="none">
<line x1="255" y1="211.6" x2="392" y2="308.5" marker-end="url(#ah)"/>
<line x1="398" y1="312" x2="254" y2="453.5" marker-end="url(#ah)"/>
<line x1="650" y1="312" x2="748" y2="312" marker-end="url(#ah)"/>
</g>
<g fill="#1592f0">
<circle cx="254.8" cy="211.6" r="7.2"/>
<circle cx="398.9" cy="312.2" r="7.2"/>
<circle cx="248" cy="459.3" r="7.2"/>
<circle cx="649.5" cy="312" r="7.2"/>
<circle cx="754" cy="312" r="7.2"/>
</g>
</svg>
<div class="a dl" style="left:57px;top:987.5px">电子引伸计</div>
<div class="a dl" style="left:193px;top:987.5px">测力传感器</div>
<div class="a dl" style="left:120px;top:1279px">位移传感器</div>
<div class="a dl" style="left:150px;top:1506px">电脑</div>
<div class="a dl" style="left:484px;top:1413px">系统图框</div>
<div class="a dl" style="left:662px;top:1251px;letter-spacing:2px">控制输出</div>
<div class="a dl" style="left:912px;top:1201px">伺服阀</div>
<div class="a dl" style="left:909px;top:1345px">伺服电机</div>
<div class="a dl" style="left:288px;top:1195px;width:72px;height:18px;line-height:18px;transform:rotate(41.5deg);transform-origin:36px 9px">信号输入</div>
<div class="a dl" style="left:329px;top:1309px;width:18px;height:95px;line-height:19px;white-space:normal;transform:rotate(45deg);transform-origin:9px 47.5px">以<br>太<br>网<br>通<br>讯</div>


<!-- ===== Application list ===== -->
<div class="a ah" style="left:142.8px;top:1703.6px">材料科学研究</div>
<div class="a ah" style="left:141.6px;top:1820.9px">汽车与轨道交通</div>
<div class="a ah" style="left:141.6px;top:1932.0px">航空航天研究</div>
<div class="a ah" style="left:141.0px;top:2046.7px">工程机械与重型设备</div>
<div class="a ah" style="left:142.0px;top:2162.0px">建筑与土木工程</div>
<div class="a ah" style="left:142.2px;top:2280.0px">医疗与生物力学</div>
<div class="a ah" style="left:140.6px;top:2398.8px">电子与家电</div>
<div class="a ah" style="left:140.6px;top:2518.6px">能源装备</div>
<div class="a al" style="left:117.0px;top:1743.0px">金属、复合材料、高分子、陶瓷等材料的高低周疲劳、拉压疲劳、扭转疲劳、断裂力学测试</div>
<div style="position:absolute;left:104.6px;top:1750.3px;width:3px;height:3px;background:#111"></div>
<div class="a al" style="left:117.0px;top:1778.2px">用于新材料研发与性能验证</div>
<div style="position:absolute;left:104.6px;top:1785.5px;width:3px;height:3px;background:#111"></div>
<div class="a al" style="left:115.0px;top:1856.0px">汽车零部件、轴类、弹簧、悬架、轮毂、安全带、转向节等零部件疲劳测试</div>
<div style="position:absolute;left:103.3px;top:1863.3px;width:3px;height:3px;background:#111"></div>
<div class="a al" style="left:115.0px;top:1893.0px">轨道车辆车体、转向架、车轴等结构耐久试验</div>
<div style="position:absolute;left:103.3px;top:1900.3px;width:3px;height:3px;background:#111"></div>
<div class="a al" style="left:113.0px;top:1965.2px">飞机机身、机翼、起落架、发动机叶片等构件疲劳测试</div>
<div style="position:absolute;left:101.8px;top:1972.5px;width:3px;height:3px;background:#111"></div>
<div class="a al" style="left:113.0px;top:2002.2px">导弹、卫星结构件的振动与耐久性能验证</div>
<div style="position:absolute;left:101.8px;top:2009.5px;width:3px;height:3px;background:#111"></div>
<div class="a al" style="left:114.0px;top:2081.2px">吊臂、车架、液压油缸、销轴等工程机械部件</div>
<div style="position:absolute;left:102.3px;top:2088.5px;width:3px;height:3px;background:#111"></div>
<div class="a al" style="left:114.0px;top:2118.8px">风电主轴、叶片根部、工业螺栓等新能源装备疲劳测试</div>
<div style="position:absolute;left:102.3px;top:2126.1px;width:3px;height:3px;background:#111"></div>
<div class="a al" style="left:114.0px;top:2196.9px">桥梁缆索、钢结构、混凝土构件、隔震支座的抗震与疲劳测试</div>
<div style="position:absolute;left:102.3px;top:2204.2px;width:3px;height:3px;background:#111"></div>
<div class="a al" style="left:114.0px;top:2233.9px">大型结构拟静力/拟动力加载试验</div>
<div style="position:absolute;left:102.3px;top:2241.2px;width:3px;height:3px;background:#111"></div>
<div class="a al" style="left:114.0px;top:2316.0px">骨科植入物、假体、支架、康复器械的动态力学与疲劳测试</div>
<div style="position:absolute;left:102.3px;top:2323.3px;width:3px;height:3px;background:#111"></div>
<div class="a al" style="left:114.0px;top:2353.0px">生物材料与人体组织的力学性能研究</div>
<div style="position:absolute;left:102.3px;top:2360.3px;width:3px;height:3px;background:#111"></div>
<div class="a al" style="left:115.0px;top:2433.2px">电路板、连接器、电池包、芯片、家电壳体的振动与疲劳耐久测试</div>
<div style="position:absolute;left:103.3px;top:2440.5px;width:3px;height:3px;background:#111"></div>
<div class="a al" style="left:115.0px;top:2470.9px">消费电子产品可靠性验证</div>
<div style="position:absolute;left:103.3px;top:2478.2px;width:3px;height:3px;background:#111"></div>
<div class="a al" style="left:113.0px;top:2558.9px">石油钻杆、抽油杆、管道、阀门等能源装备疲劳测试</div>
<div style="position:absolute;left:101.8px;top:2566.2px;width:3px;height:3px;background:#111"></div>
<div class="a al" style="left:113.0px;top:2596.8px">储能结构件与风电/光伏装备的长期性能验证</div>
<div style="position:absolute;left:101.8px;top:2604.1px;width:3px;height:3px;background:#111"></div>
<!-- ===== Footer ===== -->
<div class="a" style="left:521px;top:2683px;font-size:92px;font-weight:bold;color:#000;transform:scaleY(0.95);transform-origin:0 92px;letter-spacing:-0.4px">联系我们</div>
<svg style="position:absolute;left:0;top:2700px" width="1007" height="636">
<defs><clipPath id="fc"><rect x="7" y="0" width="1000" height="636"/></clipPath></defs>
<g clip-path="url(#fc)">
<rect x="300" y="136" width="707" height="336" fill="#0c4ec6"/>
<circle cx="177" cy="320" r="262.5" fill="#fff" stroke="#0c4ec6" stroke-width="13"/>
</g>
</svg>
<div class="a ft" style="left:439px;top:2945.5px">销售一部张经理：<span class="dg">13337818192</span></div>
<div class="a ft" style="left:439px;top:3003.5px">销售二部董经理：<span class="dg">13335153008</span></div>
<div class="a ft" style="left:439px;top:3059.5px;letter-spacing:0.85px">联系地址：山东省济南市槐荫区</div>

</body></html>
